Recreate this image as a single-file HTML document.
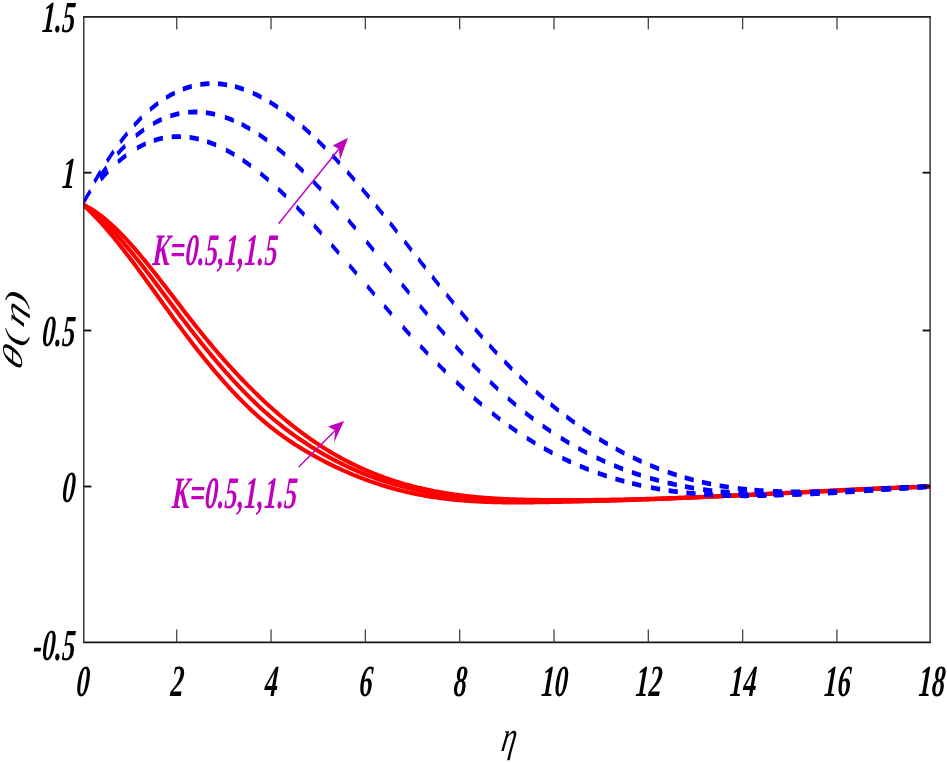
<!DOCTYPE html><html><head><meta charset="utf-8"><style>html,body{margin:0;padding:0;background:#fff;}svg{display:block;will-change:transform}text{font-family:"Liberation Serif",serif;font-weight:bold;font-style:italic;}</style></head><body>
<svg width="947" height="763" viewBox="0 0 947 763">
<rect width="947" height="763" fill="#fff"/>
<defs><clipPath id="cp"><rect x="83.9" y="13.8" width="846.2" height="631.4"/></clipPath></defs>
<g clip-path="url(#cp)"><g transform="translate(84.00,0) scale(0.620,1) translate(-84.00,0)" fill="none" stroke-linejoin="round">
<path d="M81.42,204.20 L83.84,205.54 L86.26,206.91 L88.68,208.31 L91.10,209.74 L93.52,211.19 L95.94,212.68 L98.35,214.19 L100.77,215.72 L103.19,217.28 L105.61,218.87 L108.03,220.48 L110.45,222.11 L112.87,223.77 L115.29,225.45 L117.71,227.15 L120.13,228.87 L122.55,230.61 L124.97,232.38 L127.39,234.16 L129.81,235.96 L132.23,237.78 L134.65,239.62 L137.06,241.47 L139.48,243.34 L141.90,245.23 L144.32,247.13 L146.74,249.05 L149.16,250.98 L151.58,252.92 L154.00,254.88 L156.42,256.85 L158.84,258.83 L161.26,260.82 L163.68,262.82 L166.10,264.84 L168.52,266.86 L170.94,268.89 L173.35,270.93 L175.77,272.97 L178.19,275.03 L180.61,277.08 L183.03,279.15 L185.45,281.22 L187.87,283.29 L190.29,285.37 L192.71,287.45 L195.13,289.54 L197.55,291.62 L199.97,293.71 L202.39,295.80 L204.81,297.89 L207.23,299.98 L209.65,302.07 L212.06,304.15 L214.48,306.24 L216.90,308.32 L219.32,310.40 L221.74,312.47 L224.16,314.54 L226.58,316.61 L229.00,318.67 L231.42,320.72 L233.84,322.77 L236.26,324.81 L238.68,326.84 L241.10,328.86 L243.52,330.87 L245.94,332.88 L248.35,334.87 L250.77,336.85 L253.19,338.83 L255.61,340.79 L258.03,342.74 L260.45,344.69 L262.87,346.62 L265.29,348.54 L267.71,350.45 L270.13,352.35 L272.55,354.24 L274.97,356.11 L277.39,357.98 L279.81,359.83 L282.23,361.67 L284.65,363.50 L287.06,365.32 L289.48,367.12 L291.90,368.92 L294.32,370.70 L296.74,372.46 L299.16,374.22 L301.58,375.96 L304.00,377.69 L306.42,379.40 L308.84,381.10 L311.26,382.79 L313.68,384.46 L316.10,386.12 L318.52,387.77 L320.94,389.40 L323.35,391.02 L325.77,392.62 L328.19,394.21 L330.61,395.78 L333.03,397.34 L335.45,398.88 L337.87,400.41 L340.29,401.92 L342.71,403.42 L345.13,404.90 L347.55,406.36 L349.97,407.81 L352.39,409.24 L354.81,410.66 L357.23,412.06 L359.65,413.44 L362.06,414.81 L364.48,416.16 L366.90,417.49 L369.32,418.81 L371.74,420.10 L374.16,421.38 L376.58,422.65 L379.00,423.89 L381.42,425.12 L383.84,426.33 L386.26,427.53 L388.68,428.71 L391.10,429.88 L393.52,431.03 L395.94,432.16 L398.35,433.28 L400.77,434.38 L403.19,435.47 L405.61,436.55 L408.03,437.61 L410.45,438.66 L412.87,439.69 L415.29,440.71 L417.71,441.72 L420.13,442.71 L422.55,443.69 L424.97,444.66 L427.39,445.62 L429.81,446.57 L432.23,447.50 L434.65,448.43 L437.06,449.34 L439.48,450.24 L441.90,451.13 L444.32,452.01 L446.74,452.88 L449.16,453.74 L451.58,454.59 L454.00,455.43 L456.42,456.26 L458.84,457.08 L461.26,457.90 L463.68,458.70 L466.10,459.50 L468.52,460.29 L470.94,461.07 L473.35,461.85 L475.77,462.61 L478.19,463.37 L480.61,464.12 L483.03,464.86 L485.45,465.59 L487.87,466.32 L490.29,467.04 L492.71,467.75 L495.13,468.45 L497.55,469.14 L499.97,469.83 L502.39,470.50 L504.81,471.17 L507.23,471.84 L509.65,472.49 L512.06,473.14 L514.48,473.77 L516.90,474.41 L519.32,475.03 L521.74,475.64 L524.16,476.25 L526.58,476.85 L529.00,477.44 L531.42,478.02 L533.84,478.60 L536.26,479.17 L538.68,479.73 L541.10,480.28 L543.52,480.82 L545.94,481.36 L548.35,481.89 L550.77,482.41 L553.19,482.92 L555.61,483.43 L558.03,483.92 L560.45,484.42 L562.87,484.90 L565.29,485.37 L567.71,485.84 L570.13,486.30 L572.55,486.75 L574.97,487.19 L577.39,487.63 L579.81,488.06 L582.23,488.48 L584.65,488.89 L587.06,489.30 L589.48,489.70 L591.90,490.09 L594.32,490.47 L596.74,490.85 L599.16,491.22 L601.58,491.58 L604.00,491.93 L606.42,492.28 L608.84,492.62 L611.26,492.95 L613.68,493.27 L616.10,493.59 L618.52,493.90 L620.94,494.20 L623.35,494.50 L625.77,494.79 L628.19,495.07 L630.61,495.35 L633.03,495.62 L635.45,495.89 L637.87,496.14 L640.29,496.39 L642.71,496.64 L645.13,496.88 L647.55,497.11 L649.97,497.34 L652.39,497.56 L654.81,497.77 L657.23,497.98 L659.65,498.18 L662.06,498.38 L664.48,498.57 L666.90,498.76 L669.32,498.94 L671.74,499.11 L674.16,499.28 L676.58,499.44 L679.00,499.60 L681.42,499.75 L683.84,499.90 L686.26,500.05 L688.68,500.18 L691.10,500.32 L693.52,500.45 L695.94,500.57 L698.35,500.69 L700.77,500.80 L703.19,500.91 L705.61,501.02 L708.03,501.12 L710.45,501.22 L712.87,501.31 L715.29,501.40 L717.71,501.48 L720.13,501.56 L722.55,501.64 L724.97,501.71 L727.39,501.78 L729.81,501.84 L732.23,501.90 L734.65,501.96 L737.06,502.01 L739.48,502.06 L741.90,502.11 L744.32,502.15 L746.74,502.19 L749.16,502.23 L751.58,502.26 L754.00,502.30 L756.42,502.32 L758.84,502.35 L761.26,502.37 L763.68,502.39 L766.10,502.41 L768.52,502.42 L770.94,502.43 L773.35,502.44 L775.77,502.45 L778.19,502.45 L780.61,502.46 L783.03,502.46 L785.45,502.45 L787.87,502.45 L790.29,502.44 L792.71,502.44 L795.13,502.43 L797.55,502.42 L799.97,502.40 L802.39,502.39 L804.81,502.37 L807.23,502.35 L809.65,502.34 L812.06,502.31 L814.48,502.29 L816.90,502.27 L819.32,502.25 L821.74,502.22 L824.16,502.20 L826.58,502.17 L829.00,502.14 L831.42,502.11 L833.84,502.09 L836.26,502.06 L838.68,502.03 L841.10,502.00 L843.52,501.97 L845.94,501.93 L848.35,501.90 L850.77,501.87 L853.19,501.84 L855.61,501.80 L858.03,501.77 L860.45,501.73 L862.87,501.70 L865.29,501.66 L867.71,501.63 L870.13,501.59 L872.55,501.56 L874.97,501.52 L877.39,501.48 L879.81,501.44 L882.23,501.40 L884.65,501.36 L887.06,501.32 L889.48,501.28 L891.90,501.24 L894.32,501.20 L896.74,501.16 L899.16,501.12 L901.58,501.08 L904.00,501.03 L906.42,500.99 L908.84,500.95 L911.26,500.90 L913.68,500.86 L916.10,500.81 L918.52,500.77 L920.94,500.72 L923.35,500.68 L925.77,500.63 L928.19,500.58 L930.61,500.53 L933.03,500.49 L935.45,500.44 L937.87,500.39 L940.29,500.34 L942.71,500.29 L945.13,500.24 L947.55,500.19 L949.97,500.14 L952.39,500.09 L954.81,500.04 L957.23,499.99 L959.65,499.94 L962.06,499.88 L964.48,499.83 L966.90,499.78 L969.32,499.72 L971.74,499.67 L974.16,499.62 L976.58,499.56 L979.00,499.51 L981.42,499.45 L983.84,499.40 L986.26,499.34 L988.68,499.28 L991.10,499.23 L993.52,499.17 L995.94,499.11 L998.35,499.06 L1000.77,499.00 L1003.19,498.94 L1005.61,498.88 L1008.03,498.82 L1010.45,498.77 L1012.87,498.71 L1015.29,498.65 L1017.71,498.59 L1020.13,498.53 L1022.55,498.47 L1024.97,498.41 L1027.39,498.35 L1029.81,498.28 L1032.23,498.22 L1034.65,498.16 L1037.06,498.10 L1039.48,498.04 L1041.90,497.97 L1044.32,497.91 L1046.74,497.85 L1049.16,497.79 L1051.58,497.72 L1054.00,497.66 L1056.42,497.60 L1058.84,497.53 L1061.26,497.47 L1063.68,497.40 L1066.10,497.34 L1068.52,497.27 L1070.94,497.21 L1073.35,497.14 L1075.77,497.08 L1078.19,497.01 L1080.61,496.94 L1083.03,496.88 L1085.45,496.81 L1087.87,496.75 L1090.29,496.68 L1092.71,496.61 L1095.13,496.54 L1097.55,496.48 L1099.97,496.41 L1102.39,496.34 L1104.81,496.27 L1107.23,496.21 L1109.65,496.14 L1112.06,496.07 L1114.48,496.00 L1116.90,495.93 L1119.32,495.86 L1121.74,495.80 L1124.16,495.73 L1126.58,495.66 L1129.00,495.59 L1131.42,495.52 L1133.84,495.45 L1136.26,495.38 L1138.68,495.31 L1141.10,495.24 L1143.52,495.17 L1145.94,495.10 L1148.35,495.03 L1150.77,494.96 L1153.19,494.89 L1155.61,494.82 L1158.03,494.75 L1160.45,494.68 L1162.87,494.61 L1165.29,494.54 L1167.71,494.46 L1170.13,494.39 L1172.55,494.32 L1174.97,494.25 L1177.39,494.18 L1179.81,494.11 L1182.23,494.04 L1184.65,493.97 L1187.06,493.89 L1189.48,493.82 L1191.90,493.75 L1194.32,493.68 L1196.74,493.61 L1199.16,493.54 L1201.58,493.46 L1204.00,493.39 L1206.42,493.32 L1208.84,493.25 L1211.26,493.18 L1213.68,493.10 L1216.10,493.03 L1218.52,492.96 L1220.94,492.89 L1223.35,492.82 L1225.77,492.75 L1228.19,492.67 L1230.61,492.60 L1233.03,492.53 L1235.45,492.46 L1237.87,492.39 L1240.29,492.31 L1242.71,492.24 L1245.13,492.17 L1247.55,492.10 L1249.97,492.03 L1252.39,491.95 L1254.81,491.88 L1257.23,491.81 L1259.65,491.74 L1262.06,491.67 L1264.48,491.60 L1266.90,491.53 L1269.32,491.45 L1271.74,491.38 L1274.16,491.31 L1276.58,491.24 L1279.00,491.17 L1281.42,491.10 L1283.84,491.03 L1286.26,490.96 L1288.68,490.88 L1291.10,490.81 L1293.52,490.74 L1295.94,490.67 L1298.35,490.60 L1300.77,490.53 L1303.19,490.46 L1305.61,490.39 L1308.03,490.32 L1310.45,490.25 L1312.87,490.18 L1315.29,490.11 L1317.71,490.04 L1320.13,489.97 L1322.55,489.90 L1324.97,489.83 L1327.39,489.76 L1329.81,489.70 L1332.23,489.63 L1334.65,489.56 L1337.06,489.49 L1339.48,489.42 L1341.90,489.35 L1344.32,489.29 L1346.74,489.22 L1349.16,489.15 L1351.58,489.08 L1354.00,489.01 L1356.42,488.95 L1358.84,488.88 L1361.26,488.81 L1363.68,488.75 L1366.10,488.68 L1368.52,488.61 L1370.94,488.55 L1373.35,488.48 L1375.77,488.42 L1378.19,488.35 L1380.61,488.29 L1383.03,488.22 L1385.45,488.16 L1387.87,488.09 L1390.29,488.03 L1392.71,487.96 L1395.13,487.90 L1397.55,487.83 L1399.97,487.77 L1402.39,487.71 L1404.81,487.64 L1407.23,487.58 L1409.65,487.52 L1412.06,487.46 L1414.48,487.39 L1416.90,487.33 L1419.32,487.27 L1421.74,487.21 L1424.16,487.15 L1426.58,487.09 L1429.00,487.03 L1431.42,486.97 L1433.84,486.91 L1436.26,486.85 L1438.68,486.79 L1441.10,486.73 L1443.52,486.67 L1445.94,486.61 L1448.35,486.55 L1450.61,486.50" stroke="#ff0000" stroke-width="4.10" vector-effect="non-scaling-stroke"/>
<path d="M81.42,204.20 L83.84,205.22 L86.26,206.28 L88.68,207.37 L91.10,208.50 L93.52,209.66 L95.94,210.85 L98.35,212.07 L100.77,213.32 L103.19,214.60 L105.61,215.91 L108.03,217.25 L110.45,218.61 L112.87,220.01 L115.29,221.43 L117.71,222.88 L120.13,224.35 L122.55,225.85 L124.97,227.38 L127.39,228.92 L129.81,230.50 L132.23,232.09 L134.65,233.70 L137.06,235.34 L139.48,237.00 L141.90,238.68 L144.32,240.38 L146.74,242.09 L149.16,243.83 L151.58,245.58 L154.00,247.35 L156.42,249.14 L158.84,250.94 L161.26,252.76 L163.68,254.59 L166.10,256.44 L168.52,258.30 L170.94,260.17 L173.35,262.06 L175.77,263.96 L178.19,265.87 L180.61,267.79 L183.03,269.72 L185.45,271.65 L187.87,273.60 L190.29,275.56 L192.71,277.52 L195.13,279.49 L197.55,281.46 L199.97,283.45 L202.39,285.43 L204.81,287.42 L207.23,289.42 L209.65,291.42 L212.06,293.42 L214.48,295.42 L216.90,297.42 L219.32,299.43 L221.74,301.43 L224.16,303.44 L226.58,305.44 L229.00,307.44 L231.42,309.44 L233.84,311.44 L236.26,313.43 L238.68,315.42 L241.10,317.40 L243.52,319.38 L245.94,321.35 L248.35,323.32 L250.77,325.28 L253.19,327.23 L255.61,329.17 L258.03,331.11 L260.45,333.03 L262.87,334.95 L265.29,336.85 L267.71,338.75 L270.13,340.63 L272.55,342.51 L274.97,344.37 L277.39,346.23 L279.81,348.08 L282.23,349.91 L284.65,351.74 L287.06,353.55 L289.48,355.35 L291.90,357.14 L294.32,358.93 L296.74,360.70 L299.16,362.46 L301.58,364.20 L304.00,365.94 L306.42,367.67 L308.84,369.38 L311.26,371.08 L313.68,372.77 L316.10,374.45 L318.52,376.12 L320.94,377.77 L323.35,379.42 L325.77,381.05 L328.19,382.66 L330.61,384.27 L333.03,385.86 L335.45,387.44 L337.87,389.01 L340.29,390.56 L342.71,392.10 L345.13,393.63 L347.55,395.15 L349.97,396.65 L352.39,398.14 L354.81,399.61 L357.23,401.07 L359.65,402.52 L362.06,403.95 L364.48,405.37 L366.90,406.78 L369.32,408.17 L371.74,409.54 L374.16,410.90 L376.58,412.25 L379.00,413.59 L381.42,414.90 L383.84,416.21 L386.26,417.49 L388.68,418.77 L391.10,420.03 L393.52,421.27 L395.94,422.50 L398.35,423.71 L400.77,424.91 L403.19,426.09 L405.61,427.26 L408.03,428.42 L410.45,429.56 L412.87,430.69 L415.29,431.81 L417.71,432.92 L420.13,434.01 L422.55,435.09 L424.97,436.15 L427.39,437.21 L429.81,438.25 L432.23,439.28 L434.65,440.31 L437.06,441.32 L439.48,442.32 L441.90,443.30 L444.32,444.28 L446.74,445.25 L449.16,446.21 L451.58,447.16 L454.00,448.09 L456.42,449.02 L458.84,449.94 L461.26,450.84 L463.68,451.74 L466.10,452.62 L468.52,453.50 L470.94,454.36 L473.35,455.22 L475.77,456.06 L478.19,456.90 L480.61,457.72 L483.03,458.53 L485.45,459.33 L487.87,460.13 L490.29,460.91 L492.71,461.68 L495.13,462.45 L497.55,463.20 L499.97,463.94 L502.39,464.68 L504.81,465.40 L507.23,466.12 L509.65,466.82 L512.06,467.52 L514.48,468.21 L516.90,468.88 L519.32,469.55 L521.74,470.21 L524.16,470.86 L526.58,471.50 L529.00,472.14 L531.42,472.76 L533.84,473.37 L536.26,473.98 L538.68,474.58 L541.10,475.17 L543.52,475.75 L545.94,476.32 L548.35,476.88 L550.77,477.43 L553.19,477.98 L555.61,478.52 L558.03,479.05 L560.45,479.57 L562.87,480.08 L565.29,480.59 L567.71,481.09 L570.13,481.58 L572.55,482.06 L574.97,482.53 L577.39,483.00 L579.81,483.46 L582.23,483.91 L584.65,484.35 L587.06,484.79 L589.48,485.22 L591.90,485.64 L594.32,486.05 L596.74,486.46 L599.16,486.86 L601.58,487.25 L604.00,487.63 L606.42,488.01 L608.84,488.38 L611.26,488.75 L613.68,489.11 L616.10,489.46 L618.52,489.80 L620.94,490.14 L623.35,490.47 L625.77,490.80 L628.19,491.12 L630.61,491.43 L633.03,491.73 L635.45,492.03 L637.87,492.33 L640.29,492.61 L642.71,492.90 L645.13,493.17 L647.55,493.44 L649.97,493.70 L652.39,493.96 L654.81,494.21 L657.23,494.46 L659.65,494.70 L662.06,494.94 L664.48,495.17 L666.90,495.39 L669.32,495.61 L671.74,495.82 L674.16,496.03 L676.58,496.24 L679.00,496.43 L681.42,496.63 L683.84,496.82 L686.26,497.00 L688.68,497.18 L691.10,497.35 L693.52,497.52 L695.94,497.68 L698.35,497.84 L700.77,498.00 L703.19,498.15 L705.61,498.30 L708.03,498.44 L710.45,498.58 L712.87,498.71 L715.29,498.84 L717.71,498.96 L720.13,499.08 L722.55,499.20 L724.97,499.31 L727.39,499.42 L729.81,499.53 L732.23,499.63 L734.65,499.73 L737.06,499.82 L739.48,499.91 L741.90,500.00 L744.32,500.08 L746.74,500.16 L749.16,500.24 L751.58,500.31 L754.00,500.39 L756.42,500.45 L758.84,500.52 L761.26,500.58 L763.68,500.64 L766.10,500.69 L768.52,500.75 L770.94,500.80 L773.35,500.84 L775.77,500.89 L778.19,500.93 L780.61,500.97 L783.03,501.01 L785.45,501.04 L787.87,501.08 L790.29,501.11 L792.71,501.13 L795.13,501.16 L797.55,501.18 L799.97,501.21 L802.39,501.23 L804.81,501.24 L807.23,501.26 L809.65,501.28 L812.06,501.29 L814.48,501.30 L816.90,501.31 L819.32,501.32 L821.74,501.32 L824.16,501.33 L826.58,501.33 L829.00,501.34 L831.42,501.34 L833.84,501.34 L836.26,501.34 L838.68,501.34 L841.10,501.33 L843.52,501.33 L845.94,501.32 L848.35,501.32 L850.77,501.31 L853.19,501.30 L855.61,501.30 L858.03,501.29 L860.45,501.28 L862.87,501.26 L865.29,501.25 L867.71,501.24 L870.13,501.22 L872.55,501.21 L874.97,501.19 L877.39,501.17 L879.81,501.16 L882.23,501.14 L884.65,501.12 L887.06,501.10 L889.48,501.08 L891.90,501.05 L894.32,501.03 L896.74,501.00 L899.16,500.98 L901.58,500.95 L904.00,500.93 L906.42,500.90 L908.84,500.87 L911.26,500.84 L913.68,500.81 L916.10,500.78 L918.52,500.75 L920.94,500.72 L923.35,500.68 L925.77,500.65 L928.19,500.61 L930.61,500.58 L933.03,500.54 L935.45,500.50 L937.87,500.47 L940.29,500.43 L942.71,500.39 L945.13,500.35 L947.55,500.31 L949.97,500.27 L952.39,500.22 L954.81,500.18 L957.23,500.14 L959.65,500.09 L962.06,500.05 L964.48,500.00 L966.90,499.96 L969.32,499.91 L971.74,499.86 L974.16,499.81 L976.58,499.76 L979.00,499.71 L981.42,499.66 L983.84,499.61 L986.26,499.56 L988.68,499.51 L991.10,499.46 L993.52,499.40 L995.94,499.35 L998.35,499.30 L1000.77,499.24 L1003.19,499.18 L1005.61,499.13 L1008.03,499.07 L1010.45,499.01 L1012.87,498.96 L1015.29,498.90 L1017.71,498.84 L1020.13,498.78 L1022.55,498.72 L1024.97,498.66 L1027.39,498.60 L1029.81,498.54 L1032.23,498.48 L1034.65,498.41 L1037.06,498.35 L1039.48,498.29 L1041.90,498.22 L1044.32,498.16 L1046.74,498.10 L1049.16,498.03 L1051.58,497.97 L1054.00,497.90 L1056.42,497.83 L1058.84,497.77 L1061.26,497.70 L1063.68,497.63 L1066.10,497.56 L1068.52,497.50 L1070.94,497.43 L1073.35,497.36 L1075.77,497.29 L1078.19,497.22 L1080.61,497.15 L1083.03,497.08 L1085.45,497.01 L1087.87,496.94 L1090.29,496.87 L1092.71,496.80 L1095.13,496.72 L1097.55,496.65 L1099.97,496.58 L1102.39,496.51 L1104.81,496.43 L1107.23,496.36 L1109.65,496.29 L1112.06,496.21 L1114.48,496.14 L1116.90,496.06 L1119.32,495.99 L1121.74,495.91 L1124.16,495.84 L1126.58,495.76 L1129.00,495.69 L1131.42,495.61 L1133.84,495.54 L1136.26,495.46 L1138.68,495.38 L1141.10,495.31 L1143.52,495.23 L1145.94,495.15 L1148.35,495.08 L1150.77,495.00 L1153.19,494.92 L1155.61,494.85 L1158.03,494.77 L1160.45,494.69 L1162.87,494.61 L1165.29,494.53 L1167.71,494.46 L1170.13,494.38 L1172.55,494.30 L1174.97,494.22 L1177.39,494.14 L1179.81,494.07 L1182.23,493.99 L1184.65,493.91 L1187.06,493.83 L1189.48,493.75 L1191.90,493.67 L1194.32,493.59 L1196.74,493.52 L1199.16,493.44 L1201.58,493.36 L1204.00,493.28 L1206.42,493.20 L1208.84,493.12 L1211.26,493.04 L1213.68,492.97 L1216.10,492.89 L1218.52,492.81 L1220.94,492.73 L1223.35,492.65 L1225.77,492.57 L1228.19,492.49 L1230.61,492.42 L1233.03,492.34 L1235.45,492.26 L1237.87,492.18 L1240.29,492.10 L1242.71,492.03 L1245.13,491.95 L1247.55,491.87 L1249.97,491.79 L1252.39,491.72 L1254.81,491.64 L1257.23,491.56 L1259.65,491.49 L1262.06,491.41 L1264.48,491.33 L1266.90,491.26 L1269.32,491.18 L1271.74,491.11 L1274.16,491.03 L1276.58,490.95 L1279.00,490.88 L1281.42,490.80 L1283.84,490.73 L1286.26,490.65 L1288.68,490.58 L1291.10,490.51 L1293.52,490.43 L1295.94,490.36 L1298.35,490.28 L1300.77,490.21 L1303.19,490.14 L1305.61,490.07 L1308.03,489.99 L1310.45,489.92 L1312.87,489.85 L1315.29,489.78 L1317.71,489.71 L1320.13,489.64 L1322.55,489.57 L1324.97,489.50 L1327.39,489.43 L1329.81,489.36 L1332.23,489.29 L1334.65,489.22 L1337.06,489.15 L1339.48,489.09 L1341.90,489.02 L1344.32,488.95 L1346.74,488.88 L1349.16,488.82 L1351.58,488.75 L1354.00,488.69 L1356.42,488.62 L1358.84,488.56 L1361.26,488.49 L1363.68,488.43 L1366.10,488.37 L1368.52,488.30 L1370.94,488.24 L1373.35,488.18 L1375.77,488.12 L1378.19,488.06 L1380.61,488.00 L1383.03,487.94 L1385.45,487.88 L1387.87,487.82 L1390.29,487.76 L1392.71,487.70 L1395.13,487.65 L1397.55,487.59 L1399.97,487.53 L1402.39,487.48 L1404.81,487.42 L1407.23,487.37 L1409.65,487.32 L1412.06,487.26 L1414.48,487.21 L1416.90,487.16 L1419.32,487.11 L1421.74,487.06 L1424.16,487.01 L1426.58,486.96 L1429.00,486.91 L1431.42,486.86 L1433.84,486.81 L1436.26,486.77 L1438.68,486.72 L1441.10,486.67 L1443.52,486.63 L1445.94,486.58 L1448.35,486.54 L1450.61,486.50" stroke="#ff0000" stroke-width="4.10" vector-effect="non-scaling-stroke"/>
<path d="M81.42,204.20 L83.84,204.92 L86.26,205.68 L88.68,206.48 L91.10,207.31 L93.52,208.19 L95.94,209.10 L98.35,210.05 L100.77,211.04 L103.19,212.06 L105.61,213.12 L108.03,214.21 L110.45,215.33 L112.87,216.49 L115.29,217.68 L117.71,218.90 L120.13,220.15 L122.55,221.44 L124.97,222.75 L127.39,224.09 L129.81,225.46 L132.23,226.86 L134.65,228.28 L137.06,229.73 L139.48,231.20 L141.90,232.70 L144.32,234.23 L146.74,235.78 L149.16,237.35 L151.58,238.94 L154.00,240.56 L156.42,242.19 L158.84,243.85 L161.26,245.53 L163.68,247.22 L166.10,248.93 L168.52,250.67 L170.94,252.41 L173.35,254.18 L175.77,255.96 L178.19,257.75 L180.61,259.56 L183.03,261.39 L185.45,263.22 L187.87,265.07 L190.29,266.93 L192.71,268.80 L195.13,270.68 L197.55,272.58 L199.97,274.48 L202.39,276.39 L204.81,278.30 L207.23,280.23 L209.65,282.16 L212.06,284.09 L214.48,286.03 L216.90,287.98 L219.32,289.93 L221.74,291.88 L224.16,293.84 L226.58,295.79 L229.00,297.75 L231.42,299.71 L233.84,301.67 L236.26,303.62 L238.68,305.58 L241.10,307.53 L243.52,309.49 L245.94,311.43 L248.35,313.38 L250.77,315.31 L253.19,317.25 L255.61,319.17 L258.03,321.09 L260.45,323.01 L262.87,324.91 L265.29,326.81 L267.71,328.69 L270.13,330.57 L272.55,332.43 L274.97,334.29 L277.39,336.13 L279.81,337.97 L282.23,339.79 L284.65,341.60 L287.06,343.40 L289.48,345.19 L291.90,346.97 L294.32,348.74 L296.74,350.50 L299.16,352.25 L301.58,353.98 L304.00,355.71 L306.42,357.42 L308.84,359.13 L311.26,360.82 L313.68,362.50 L316.10,364.17 L318.52,365.83 L320.94,367.48 L323.35,369.12 L325.77,370.75 L328.19,372.36 L330.61,373.97 L333.03,375.56 L335.45,377.15 L337.87,378.72 L340.29,380.28 L342.71,381.83 L345.13,383.37 L347.55,384.90 L349.97,386.42 L352.39,387.93 L354.81,389.42 L357.23,390.91 L359.65,392.38 L362.06,393.84 L364.48,395.29 L366.90,396.73 L369.32,398.16 L371.74,399.58 L374.16,400.98 L376.58,402.38 L379.00,403.76 L381.42,405.14 L383.84,406.50 L386.26,407.85 L388.68,409.19 L391.10,410.51 L393.52,411.83 L395.94,413.14 L398.35,414.43 L400.77,415.71 L403.19,416.98 L405.61,418.24 L408.03,419.49 L410.45,420.73 L412.87,421.96 L415.29,423.17 L417.71,424.37 L420.13,425.57 L422.55,426.75 L424.97,427.92 L427.39,429.07 L429.81,430.22 L432.23,431.36 L434.65,432.48 L437.06,433.59 L439.48,434.69 L441.90,435.78 L444.32,436.86 L446.74,437.92 L449.16,438.98 L451.58,440.02 L454.00,441.05 L456.42,442.07 L458.84,443.08 L461.26,444.08 L463.68,445.06 L466.10,446.03 L468.52,447.00 L470.94,447.95 L473.35,448.88 L475.77,449.81 L478.19,450.73 L480.61,451.63 L483.03,452.53 L485.45,453.41 L487.87,454.28 L490.29,455.14 L492.71,455.99 L495.13,456.83 L497.55,457.66 L499.97,458.48 L502.39,459.28 L504.81,460.08 L507.23,460.86 L509.65,461.64 L512.06,462.41 L514.48,463.16 L516.90,463.91 L519.32,464.64 L521.74,465.36 L524.16,466.08 L526.58,466.78 L529.00,467.48 L531.42,468.16 L533.84,468.84 L536.26,469.51 L538.68,470.16 L541.10,470.81 L543.52,471.45 L545.94,472.07 L548.35,472.69 L550.77,473.30 L553.19,473.90 L555.61,474.49 L558.03,475.08 L560.45,475.65 L562.87,476.21 L565.29,476.77 L567.71,477.32 L570.13,477.85 L572.55,478.38 L574.97,478.90 L577.39,479.42 L579.81,479.92 L582.23,480.42 L584.65,480.91 L587.06,481.39 L589.48,481.86 L591.90,482.32 L594.32,482.78 L596.74,483.22 L599.16,483.66 L601.58,484.10 L604.00,484.52 L606.42,484.94 L608.84,485.35 L611.26,485.75 L613.68,486.14 L616.10,486.53 L618.52,486.91 L620.94,487.28 L623.35,487.65 L625.77,488.00 L628.19,488.36 L630.61,488.70 L633.03,489.04 L635.45,489.37 L637.87,489.69 L640.29,490.01 L642.71,490.32 L645.13,490.62 L647.55,490.92 L649.97,491.21 L652.39,491.50 L654.81,491.78 L657.23,492.05 L659.65,492.32 L662.06,492.58 L664.48,492.83 L666.90,493.08 L669.32,493.32 L671.74,493.56 L674.16,493.79 L676.58,494.02 L679.00,494.24 L681.42,494.46 L683.84,494.66 L686.26,494.87 L688.68,495.07 L691.10,495.26 L693.52,495.45 L695.94,495.63 L698.35,495.81 L700.77,495.99 L703.19,496.16 L705.61,496.32 L708.03,496.48 L710.45,496.63 L712.87,496.79 L715.29,496.93 L717.71,497.07 L720.13,497.21 L722.55,497.34 L724.97,497.47 L727.39,497.60 L729.81,497.72 L732.23,497.83 L734.65,497.94 L737.06,498.05 L739.48,498.16 L741.90,498.26 L744.32,498.36 L746.74,498.45 L749.16,498.54 L751.58,498.63 L754.00,498.71 L756.42,498.79 L758.84,498.87 L761.26,498.94 L763.68,499.01 L766.10,499.08 L768.52,499.14 L770.94,499.21 L773.35,499.26 L775.77,499.32 L778.19,499.37 L780.61,499.42 L783.03,499.47 L785.45,499.52 L787.87,499.56 L790.29,499.60 L792.71,499.64 L795.13,499.68 L797.55,499.71 L799.97,499.75 L802.39,499.78 L804.81,499.80 L807.23,499.83 L809.65,499.86 L812.06,499.88 L814.48,499.90 L816.90,499.92 L819.32,499.94 L821.74,499.96 L824.16,499.97 L826.58,499.99 L829.00,500.00 L831.42,500.01 L833.84,500.02 L836.26,500.03 L838.68,500.04 L841.10,500.05 L843.52,500.05 L845.94,500.06 L848.35,500.07 L850.77,500.07 L853.19,500.07 L855.61,500.08 L858.03,500.08 L860.45,500.08 L862.87,500.08 L865.29,500.08 L867.71,500.07 L870.13,500.07 L872.55,500.07 L874.97,500.06 L877.39,500.05 L879.81,500.05 L882.23,500.04 L884.65,500.03 L887.06,500.02 L889.48,500.01 L891.90,500.00 L894.32,499.99 L896.74,499.98 L899.16,499.96 L901.58,499.95 L904.00,499.93 L906.42,499.92 L908.84,499.90 L911.26,499.88 L913.68,499.87 L916.10,499.85 L918.52,499.83 L920.94,499.81 L923.35,499.78 L925.77,499.76 L928.19,499.74 L930.61,499.72 L933.03,499.69 L935.45,499.67 L937.87,499.64 L940.29,499.61 L942.71,499.59 L945.13,499.56 L947.55,499.53 L949.97,499.50 L952.39,499.47 L954.81,499.44 L957.23,499.41 L959.65,499.37 L962.06,499.34 L964.48,499.31 L966.90,499.27 L969.32,499.24 L971.74,499.20 L974.16,499.17 L976.58,499.13 L979.00,499.09 L981.42,499.05 L983.84,499.01 L986.26,498.97 L988.68,498.93 L991.10,498.89 L993.52,498.85 L995.94,498.81 L998.35,498.77 L1000.77,498.72 L1003.19,498.68 L1005.61,498.64 L1008.03,498.59 L1010.45,498.55 L1012.87,498.50 L1015.29,498.45 L1017.71,498.41 L1020.13,498.36 L1022.55,498.31 L1024.97,498.26 L1027.39,498.21 L1029.81,498.16 L1032.23,498.11 L1034.65,498.06 L1037.06,498.01 L1039.48,497.96 L1041.90,497.90 L1044.32,497.85 L1046.74,497.80 L1049.16,497.74 L1051.58,497.69 L1054.00,497.64 L1056.42,497.58 L1058.84,497.52 L1061.26,497.47 L1063.68,497.41 L1066.10,497.35 L1068.52,497.30 L1070.94,497.24 L1073.35,497.18 L1075.77,497.12 L1078.19,497.06 L1080.61,497.00 L1083.03,496.94 L1085.45,496.88 L1087.87,496.82 L1090.29,496.76 L1092.71,496.70 L1095.13,496.64 L1097.55,496.58 L1099.97,496.51 L1102.39,496.45 L1104.81,496.39 L1107.23,496.32 L1109.65,496.26 L1112.06,496.19 L1114.48,496.13 L1116.90,496.06 L1119.32,496.00 L1121.74,495.93 L1124.16,495.87 L1126.58,495.80 L1129.00,495.74 L1131.42,495.67 L1133.84,495.60 L1136.26,495.53 L1138.68,495.47 L1141.10,495.40 L1143.52,495.33 L1145.94,495.26 L1148.35,495.19 L1150.77,495.12 L1153.19,495.05 L1155.61,494.99 L1158.03,494.92 L1160.45,494.85 L1162.87,494.78 L1165.29,494.71 L1167.71,494.63 L1170.13,494.56 L1172.55,494.49 L1174.97,494.42 L1177.39,494.35 L1179.81,494.28 L1182.23,494.21 L1184.65,494.14 L1187.06,494.06 L1189.48,493.99 L1191.90,493.92 L1194.32,493.85 L1196.74,493.77 L1199.16,493.70 L1201.58,493.63 L1204.00,493.56 L1206.42,493.48 L1208.84,493.41 L1211.26,493.34 L1213.68,493.26 L1216.10,493.19 L1218.52,493.12 L1220.94,493.04 L1223.35,492.97 L1225.77,492.90 L1228.19,492.82 L1230.61,492.75 L1233.03,492.67 L1235.45,492.60 L1237.87,492.53 L1240.29,492.45 L1242.71,492.38 L1245.13,492.30 L1247.55,492.23 L1249.97,492.16 L1252.39,492.08 L1254.81,492.01 L1257.23,491.93 L1259.65,491.86 L1262.06,491.78 L1264.48,491.71 L1266.90,491.64 L1269.32,491.56 L1271.74,491.49 L1274.16,491.41 L1276.58,491.34 L1279.00,491.27 L1281.42,491.19 L1283.84,491.12 L1286.26,491.04 L1288.68,490.97 L1291.10,490.90 L1293.52,490.82 L1295.94,490.75 L1298.35,490.68 L1300.77,490.60 L1303.19,490.53 L1305.61,490.46 L1308.03,490.38 L1310.45,490.31 L1312.87,490.24 L1315.29,490.17 L1317.71,490.09 L1320.13,490.02 L1322.55,489.95 L1324.97,489.88 L1327.39,489.81 L1329.81,489.73 L1332.23,489.66 L1334.65,489.59 L1337.06,489.52 L1339.48,489.45 L1341.90,489.38 L1344.32,489.31 L1346.74,489.24 L1349.16,489.17 L1351.58,489.10 L1354.00,489.03 L1356.42,488.96 L1358.84,488.89 L1361.26,488.82 L1363.68,488.75 L1366.10,488.69 L1368.52,488.62 L1370.94,488.55 L1373.35,488.48 L1375.77,488.41 L1378.19,488.35 L1380.61,488.28 L1383.03,488.21 L1385.45,488.15 L1387.87,488.08 L1390.29,488.02 L1392.71,487.95 L1395.13,487.89 L1397.55,487.82 L1399.97,487.76 L1402.39,487.69 L1404.81,487.63 L1407.23,487.57 L1409.65,487.51 L1412.06,487.44 L1414.48,487.38 L1416.90,487.32 L1419.32,487.26 L1421.74,487.20 L1424.16,487.14 L1426.58,487.08 L1429.00,487.02 L1431.42,486.96 L1433.84,486.90 L1436.26,486.84 L1438.68,486.78 L1441.10,486.72 L1443.52,486.67 L1445.94,486.61 L1448.35,486.55 L1450.61,486.50" stroke="#ff0000" stroke-width="4.10" vector-effect="non-scaling-stroke"/>
<path d="M110.94,179.74 L111.74,179.16 L112.55,178.58 L113.35,178.00 L114.16,177.43 L114.97,176.86 L115.77,176.30 L116.58,175.74 L117.39,175.19 L118.19,174.64 L119.00,174.09 L119.81,173.55 L120.61,173.01 L121.42,172.48 L122.23,171.95 L123.03,171.43 M138.84,162.01 L139.65,161.57 L140.45,161.13 L141.26,160.70 L142.06,160.28 L142.87,159.86 L143.68,159.44 L144.48,159.02 L145.29,158.62 L146.10,158.21 L146.90,157.81 L147.71,157.41 L148.52,157.02 L149.32,156.63 L150.13,156.24 L150.94,155.86 L151.74,155.48 L152.06,155.33 M169.48,148.18 L170.29,147.89 L171.10,147.61 L171.90,147.33 L172.71,147.05 L173.52,146.78 L174.32,146.51 L175.13,146.24 L175.94,145.98 L176.74,145.73 L177.55,145.47 L178.35,145.22 L179.16,144.98 L179.97,144.73 L180.77,144.50 L181.58,144.26 L182.39,144.03 L183.19,143.80 L183.68,143.67 M196.58,140.56 L197.39,140.39 L198.19,140.23 L199.00,140.08 L199.81,139.92 L200.61,139.77 L201.42,139.63 L202.23,139.48 L203.03,139.35 L203.84,139.21 L204.65,139.08 L205.45,138.95 L206.26,138.82 L207.06,138.70 L207.87,138.58 L208.68,138.47 L209.48,138.36 L210.29,138.25 L211.10,138.15 L211.26,138.13 M225.45,136.85 L226.26,136.81 L227.06,136.78 L227.87,136.74 L228.68,136.71 L229.48,136.68 L230.29,136.66 L231.10,136.63 L231.90,136.62 L232.71,136.60 L233.52,136.59 L234.32,136.58 L235.13,136.57 L235.94,136.57 L236.74,136.57 L237.55,136.58 L238.35,136.58 L239.16,136.59 L239.97,136.61 L240.29,136.61 M254.32,137.37 L255.13,137.44 L255.94,137.51 L256.74,137.59 L257.55,137.67 L258.35,137.76 L259.16,137.84 L259.97,137.93 L260.77,138.02 L261.58,138.12 L262.39,138.22 L263.19,138.32 L264.00,138.42 L264.81,138.53 L265.61,138.64 L266.42,138.75 L267.23,138.87 L268.03,138.99 L268.84,139.11 L269.16,139.16 M282.55,141.61 L283.35,141.78 L284.16,141.95 L284.97,142.13 L285.77,142.31 L286.58,142.49 L287.39,142.68 L288.19,142.87 L289.00,143.06 L289.81,143.25 L290.61,143.45 L291.42,143.64 L292.23,143.84 L293.03,144.05 L293.84,144.25 L294.65,144.46 L295.45,144.67 L296.26,144.89 L297.06,145.11 M312.87,149.85 L313.68,150.12 L314.48,150.39 L315.29,150.66 L316.10,150.94 L316.90,151.21 L317.71,151.49 L318.52,151.77 L319.32,152.06 L320.13,152.34 L320.94,152.63 L321.74,152.92 L322.55,153.21 L323.35,153.51 L324.16,153.81 L324.97,154.10 L325.77,154.41 L326.58,154.71 L326.74,154.77 M339.81,160.01 L340.61,160.35 L341.42,160.69 L342.23,161.04 L343.03,161.38 L343.84,161.73 L344.65,162.08 L345.45,162.44 L346.26,162.79 L347.06,163.15 L347.87,163.51 L348.68,163.87 L349.48,164.23 L350.29,164.60 L351.10,164.97 L351.90,165.34 L352.71,165.71 L353.35,166.01 M368.52,173.36 L369.32,173.77 L370.13,174.18 L370.94,174.59 L371.74,175.01 L372.55,175.42 L373.35,175.84 L374.16,176.26 L374.97,176.68 L375.77,177.11 L376.58,177.53 L377.39,177.96 L378.19,178.38 L379.00,178.81 L379.81,179.24 L380.61,179.68 L381.42,180.11 L381.74,180.28 M397.06,188.84 L397.87,189.30 L398.68,189.77 L399.48,190.24 L400.29,190.71 L401.10,191.18 L401.90,191.65 L402.71,192.12 L403.52,192.60 L404.32,193.08 L405.13,193.55 L405.94,194.03 L406.74,194.51 L407.55,194.99 L408.35,195.48 L409.16,195.96 L409.81,196.35 M426.74,206.82 L427.55,207.33 L428.35,207.84 L429.16,208.36 L429.97,208.87 L430.77,209.39 L431.58,209.90 L432.39,210.42 L433.19,210.94 L434.00,211.46 L434.81,211.98 L435.61,212.50 L436.42,213.03 L437.23,213.55 L438.03,214.07 L438.84,214.60 L439.32,214.92 M454.97,225.30 L455.77,225.85 L456.58,226.39 L457.39,226.94 L458.19,227.49 L459.00,228.03 L459.81,228.58 L460.61,229.13 L461.42,229.68 L462.23,230.23 L463.03,230.78 L463.84,231.33 L464.65,231.89 L465.45,232.44 L466.26,232.99 L467.06,233.55 L467.23,233.66 M483.19,244.77 L484.00,245.34 L484.81,245.90 L485.61,246.47 L486.42,247.04 L487.23,247.61 L488.03,248.18 L488.84,248.75 L489.65,249.32 L490.45,249.89 L491.26,250.46 L492.06,251.03 L492.87,251.61 L493.68,252.18 L494.48,252.75 L495.29,253.32 M511.90,265.21 L512.71,265.79 L513.52,266.37 L514.32,266.95 L515.13,267.53 L515.94,268.11 L516.74,268.69 L517.55,269.27 L518.35,269.85 L519.16,270.44 L519.97,271.02 L520.77,271.60 L521.58,272.18 L522.39,272.76 L523.19,273.34 L523.84,273.81 M540.77,286.05 L541.58,286.63 L542.39,287.21 L543.19,287.79 L544.00,288.37 L544.81,288.96 L545.61,289.54 L546.42,290.12 L547.23,290.70 L548.03,291.28 L548.84,291.86 L549.65,292.45 L550.45,293.03 L551.26,293.61 L552.06,294.19 L552.71,294.65 M568.19,305.75 L569.00,306.33 L569.81,306.90 L570.61,307.48 L571.42,308.05 L572.23,308.62 L573.03,309.20 L573.84,309.77 L574.65,310.34 L575.45,310.91 L576.26,311.48 L577.06,312.06 L577.87,312.63 L578.68,313.20 L579.48,313.77 L580.13,314.22 M598.03,326.72 L598.84,327.28 L599.65,327.83 L600.45,328.39 L601.26,328.94 L602.06,329.50 L602.87,330.05 L603.68,330.60 L604.48,331.15 L605.29,331.70 L606.10,332.25 L606.90,332.80 L607.71,333.35 L608.52,333.90 L609.32,334.45 L610.13,334.99 L610.29,335.10 M626.42,345.87 L627.23,346.40 L628.03,346.93 L628.84,347.46 L629.65,347.99 L630.45,348.51 L631.26,349.04 L632.06,349.57 L632.87,350.09 L633.68,350.61 L634.48,351.14 L635.29,351.66 L636.10,352.18 L636.90,352.70 L637.71,353.22 L638.52,353.74 L638.84,353.95 M654.65,363.96 L655.45,364.46 L656.26,364.96 L657.06,365.46 L657.87,365.96 L658.68,366.46 L659.48,366.95 L660.29,367.45 L661.10,367.95 L661.90,368.44 L662.71,368.94 L663.52,369.43 L664.32,369.92 L665.13,370.41 L665.94,370.90 L666.74,371.39 L667.23,371.69 M684.48,381.95 L685.29,382.41 L686.10,382.88 L686.90,383.35 L687.71,383.82 L688.52,384.28 L689.32,384.75 L690.13,385.21 L690.94,385.67 L691.74,386.13 L692.55,386.59 L693.35,387.05 L694.16,387.51 L694.97,387.97 L695.77,388.43 L696.58,388.88 L697.39,389.34 M712.71,397.80 L713.52,398.24 L714.32,398.67 L715.13,399.10 L715.94,399.54 L716.74,399.97 L717.55,400.40 L718.35,400.83 L719.16,401.25 L719.97,401.68 L720.77,402.11 L721.58,402.53 L722.39,402.96 L723.19,403.38 L724.00,403.80 L724.81,404.23 L725.61,404.65 L725.77,404.73 M742.23,413.07 L743.03,413.47 L743.84,413.86 L744.65,414.26 L745.45,414.65 L746.26,415.05 L747.06,415.44 L747.87,415.83 L748.68,416.22 L749.48,416.61 L750.29,417.00 L751.10,417.38 L751.90,417.77 L752.71,418.15 L753.52,418.54 L754.32,418.92 L755.13,419.30 L755.45,419.45 M769.16,425.75 L769.97,426.11 L770.77,426.47 L771.58,426.83 L772.39,427.18 L773.19,427.54 L774.00,427.90 L774.81,428.25 L775.61,428.60 L776.42,428.95 L777.23,429.30 L778.03,429.65 L778.84,430.00 L779.65,430.35 L780.45,430.69 L781.26,431.03 L782.06,431.38 L782.71,431.65 M798.19,438.00 L799.00,438.32 L799.81,438.64 L800.61,438.95 L801.42,439.27 L802.23,439.59 L803.03,439.90 L803.84,440.21 L804.65,440.52 L805.45,440.83 L806.26,441.14 L807.06,441.45 L807.87,441.76 L808.68,442.06 L809.48,442.37 L810.29,442.67 L811.10,442.98 L811.90,443.28 L812.06,443.34 M825.77,448.30 L826.58,448.58 L827.39,448.86 L828.19,449.14 L829.00,449.42 L829.81,449.70 L830.61,449.98 L831.42,450.25 L832.23,450.53 L833.03,450.80 L833.84,451.07 L834.65,451.35 L835.45,451.62 L836.26,451.89 L837.06,452.15 L837.87,452.42 L838.68,452.69 L839.48,452.95 L839.81,453.06 M855.45,458.01 L856.26,458.25 L857.06,458.49 L857.87,458.74 L858.68,458.98 L859.48,459.22 L860.29,459.46 L861.10,459.70 L861.90,459.94 L862.71,460.17 L863.52,460.41 L864.32,460.64 L865.13,460.88 L865.94,461.11 L866.74,461.34 L867.55,461.57 L868.35,461.80 L869.16,462.03 L869.65,462.17 M883.68,465.99 L884.48,466.20 L885.29,466.41 L886.10,466.62 L886.90,466.83 L887.71,467.04 L888.52,467.25 L889.32,467.45 L890.13,467.66 L890.94,467.86 L891.74,468.06 L892.55,468.26 L893.35,468.47 L894.16,468.67 L894.97,468.86 L895.77,469.06 L896.58,469.26 L897.39,469.46 L898.19,469.65 M912.71,473.02 L913.52,473.20 L914.32,473.38 L915.13,473.56 L915.94,473.73 L916.74,473.91 L917.55,474.08 L918.35,474.26 L919.16,474.43 L919.97,474.60 L920.77,474.77 L921.58,474.94 L922.39,475.11 L923.19,475.28 L924.00,475.45 L924.81,475.61 L925.61,475.78 L926.42,475.95 L927.23,476.11 M941.10,478.81 L941.90,478.96 L942.71,479.11 L943.52,479.26 L944.32,479.40 L945.13,479.55 L945.94,479.69 L946.74,479.84 L947.55,479.98 L948.35,480.13 L949.16,480.27 L949.97,480.41 L950.77,480.55 L951.58,480.69 L952.39,480.83 L953.19,480.97 L954.00,481.11 L954.81,481.24 L955.61,481.38 M968.03,483.38 L968.84,483.50 L969.65,483.63 L970.45,483.75 L971.26,483.87 L972.06,483.99 L972.87,484.11 L973.68,484.23 L974.48,484.35 L975.29,484.47 L976.10,484.58 L976.90,484.70 L977.71,484.81 L978.52,484.93 L979.32,485.04 L980.13,485.16 L980.94,485.27 L981.74,485.38 L982.55,485.49 L982.71,485.51 M998.35,487.53 L999.16,487.63 L999.97,487.72 L1000.77,487.82 L1001.58,487.91 L1002.39,488.01 L1003.19,488.10 L1004.00,488.19 L1004.81,488.29 L1005.61,488.38 L1006.42,488.47 L1007.23,488.56 L1008.03,488.65 L1008.84,488.74 L1009.65,488.83 L1010.45,488.91 L1011.26,489.00 L1012.06,489.09 L1012.87,489.17 L1013.19,489.21 M1026.90,490.56 L1027.71,490.63 L1028.52,490.71 L1029.32,490.78 L1030.13,490.85 L1030.94,490.92 L1031.74,490.99 L1032.55,491.06 L1033.35,491.13 L1034.16,491.20 L1034.97,491.27 L1035.77,491.34 L1036.58,491.41 L1037.39,491.47 L1038.19,491.54 L1039.00,491.60 L1039.81,491.67 L1040.61,491.73 L1041.42,491.80 L1041.74,491.82 M1055.61,492.82 L1056.42,492.88 L1057.23,492.93 L1058.03,492.98 L1058.84,493.03 L1059.65,493.08 L1060.45,493.13 L1061.26,493.18 L1062.06,493.23 L1062.87,493.28 L1063.68,493.33 L1064.48,493.38 L1065.29,493.42 L1066.10,493.47 L1066.90,493.52 L1067.71,493.56 L1068.52,493.61 L1069.32,493.65 L1070.13,493.70 L1070.45,493.71 M1084.16,494.38 L1084.97,494.41 L1085.77,494.45 L1086.58,494.48 L1087.39,494.51 L1088.19,494.54 L1089.00,494.58 L1089.81,494.61 L1090.61,494.64 L1091.42,494.67 L1092.23,494.70 L1093.03,494.73 L1093.84,494.76 L1094.65,494.79 L1095.45,494.82 L1096.26,494.84 L1097.06,494.87 L1097.87,494.90 L1098.68,494.92 L1099.00,494.93 M1113.03,495.32 L1113.84,495.34 L1114.65,495.35 L1115.45,495.37 L1116.26,495.39 L1117.06,495.40 L1117.87,495.42 L1118.68,495.44 L1119.48,495.45 L1120.29,495.47 L1121.10,495.48 L1121.90,495.49 L1122.71,495.51 L1123.52,495.52 L1124.32,495.53 L1125.13,495.54 L1125.94,495.56 L1126.74,495.57 L1127.55,495.58 L1127.87,495.58 M1141.74,495.71 L1142.55,495.71 L1143.35,495.71 L1144.16,495.72 L1144.97,495.72 L1145.77,495.72 L1146.58,495.72 L1147.39,495.72 L1148.19,495.73 L1149.00,495.73 L1149.81,495.73 L1150.61,495.73 L1151.42,495.73 L1152.23,495.73 L1153.03,495.73 L1153.84,495.72 L1154.65,495.72 L1155.45,495.72 L1156.26,495.72 L1156.58,495.72 M1170.13,495.63 L1170.94,495.62 L1171.74,495.61 L1172.55,495.60 L1173.35,495.59 L1174.16,495.59 L1174.97,495.58 L1175.77,495.57 L1176.58,495.56 L1177.39,495.55 L1178.19,495.53 L1179.00,495.52 L1179.81,495.51 L1180.61,495.50 L1181.42,495.49 L1182.23,495.48 L1183.03,495.46 L1183.84,495.45 L1184.65,495.44 L1184.97,495.43 M1197.55,495.19 L1198.35,495.17 L1199.16,495.16 L1199.97,495.14 L1200.77,495.12 L1201.58,495.10 L1202.39,495.08 L1203.19,495.06 L1204.00,495.04 L1204.81,495.03 L1205.61,495.01 L1206.42,494.99 L1207.23,494.97 L1208.03,494.95 L1208.84,494.92 L1209.65,494.90 L1210.45,494.88 L1211.26,494.86 L1212.06,494.84 L1212.39,494.83 M1226.58,494.42 L1227.39,494.39 L1228.19,494.37 L1229.00,494.34 L1229.81,494.32 L1230.61,494.29 L1231.42,494.26 L1232.23,494.24 L1233.03,494.21 L1233.84,494.18 L1234.65,494.16 L1235.45,494.13 L1236.26,494.10 L1237.06,494.07 L1237.87,494.05 L1238.68,494.02 L1239.48,493.99 L1240.29,493.96 L1241.10,493.94 L1241.42,493.92 M1255.61,493.40 L1256.42,493.37 L1257.23,493.34 L1258.03,493.31 L1258.84,493.28 L1259.65,493.25 L1260.45,493.22 L1261.26,493.19 L1262.06,493.15 L1262.87,493.12 L1263.68,493.09 L1264.48,493.06 L1265.29,493.03 L1266.10,492.99 L1266.90,492.96 L1267.71,492.93 L1268.52,492.90 L1269.32,492.86 L1270.13,492.83 L1270.45,492.82 M1283.84,492.26 L1284.65,492.23 L1285.45,492.20 L1286.26,492.16 L1287.06,492.13 L1287.87,492.09 L1288.68,492.06 L1289.48,492.03 L1290.29,491.99 L1291.10,491.96 L1291.90,491.92 L1292.71,491.89 L1293.52,491.85 L1294.32,491.82 L1295.13,491.78 L1295.94,491.75 L1296.74,491.71 L1297.55,491.68 L1298.35,491.64 L1298.68,491.63 M1312.06,491.05 L1312.87,491.02 L1313.68,490.98 L1314.48,490.95 L1315.29,490.91 L1316.10,490.88 L1316.90,490.84 L1317.71,490.81 L1318.52,490.77 L1319.32,490.74 L1320.13,490.70 L1320.94,490.67 L1321.74,490.63 L1322.55,490.60 L1323.35,490.56 L1324.16,490.53 L1324.97,490.49 L1325.77,490.46 L1326.58,490.42 L1326.90,490.41 M1342.06,489.76 L1342.87,489.73 L1343.68,489.69 L1344.48,489.66 L1345.29,489.63 L1346.10,489.59 L1346.90,489.56 L1347.71,489.53 L1348.52,489.49 L1349.32,489.46 L1350.13,489.43 L1350.94,489.39 L1351.74,489.36 L1352.55,489.33 L1353.35,489.30 L1354.16,489.26 L1354.97,489.23 L1355.77,489.20 L1356.58,489.17 L1356.90,489.15 M1370.13,488.64 L1370.94,488.61 L1371.74,488.58 L1372.55,488.55 L1373.35,488.52 L1374.16,488.49 L1374.97,488.46 L1375.77,488.43 L1376.58,488.40 L1377.39,488.37 L1378.19,488.34 L1379.00,488.31 L1379.81,488.28 L1380.61,488.25 L1381.42,488.22 L1382.23,488.19 L1383.03,488.17 L1383.84,488.14 L1384.65,488.11 L1384.97,488.10 M1399.16,487.63 L1399.97,487.61 L1400.77,487.58 L1401.58,487.56 L1402.39,487.54 L1403.19,487.51 L1404.00,487.49 L1404.81,487.46 L1405.61,487.44 L1406.42,487.42 L1407.23,487.39 L1408.03,487.37 L1408.84,487.35 L1409.65,487.33 L1410.45,487.30 L1411.26,487.28 L1412.06,487.26 L1412.87,487.24 L1413.68,487.22 L1414.00,487.21 M1428.19,486.87 L1429.00,486.86 L1429.81,486.84 L1430.61,486.82 L1431.42,486.81 L1432.23,486.79 L1433.03,486.78 L1433.84,486.76 L1434.65,486.75 L1435.45,486.73 L1436.26,486.72 L1437.06,486.70 L1437.87,486.69 L1438.68,486.68 L1439.48,486.66 L1440.29,486.65 L1441.10,486.64 L1441.90,486.62 L1442.71,486.61 L1443.03,486.61" stroke="#0000ff" stroke-width="4.80" stroke-linecap="butt"/>
<path d="M81.42,204.21 L82.23,203.34 L83.03,202.47 L83.84,201.61 L84.65,200.76 L85.45,199.91 L86.26,199.06 L87.06,198.22 L87.87,197.38 L88.68,196.55 L89.48,195.72 L90.29,194.89 L91.10,194.07 L91.90,193.26 L92.71,192.45 L93.52,191.64 L94.32,190.84 L94.48,190.68 M109.16,176.88 L109.97,176.17 L110.77,175.45 L111.58,174.75 L112.39,174.05 L113.19,173.35 L114.00,172.65 L114.81,171.96 L115.61,171.28 L116.42,170.60 L117.23,169.92 L118.03,169.25 L118.84,168.58 L119.65,167.92 L120.45,167.26 M138.03,153.93 L138.84,153.37 L139.65,152.81 L140.45,152.26 L141.26,151.70 L142.06,151.16 L142.87,150.61 L143.68,150.08 L144.48,149.54 L145.29,149.01 L146.10,148.48 L146.90,147.96 L147.71,147.44 L148.52,146.93 L149.32,146.42 L150.13,145.91 L150.45,145.71 M167.55,135.96 L168.35,135.54 L169.16,135.13 L169.97,134.72 L170.77,134.31 L171.58,133.91 L172.39,133.52 L173.19,133.12 L174.00,132.73 L174.81,132.35 L175.61,131.97 L176.42,131.59 L177.23,131.22 L178.03,130.85 L178.84,130.48 L179.65,130.12 L180.45,129.76 L180.94,129.55 M195.29,123.83 L196.10,123.55 L196.90,123.26 L197.71,122.98 L198.52,122.71 L199.32,122.44 L200.13,122.17 L200.94,121.91 L201.74,121.65 L202.55,121.39 L203.35,121.14 L204.16,120.89 L204.97,120.64 L205.77,120.40 L206.58,120.16 L207.39,119.92 L208.19,119.69 L209.00,119.46 L209.48,119.33 M223.19,116.03 L224.00,115.87 L224.81,115.71 L225.61,115.55 L226.42,115.40 L227.23,115.25 L228.03,115.10 L228.84,114.96 L229.65,114.82 L230.45,114.69 L231.26,114.56 L232.06,114.43 L232.87,114.30 L233.68,114.18 L234.48,114.06 L235.29,113.95 L236.10,113.83 L236.90,113.73 L237.71,113.62 L237.87,113.60 M252.06,112.30 L252.87,112.26 L253.68,112.22 L254.48,112.18 L255.29,112.15 L256.10,112.12 L256.90,112.09 L257.71,112.07 L258.52,112.05 L259.32,112.03 L260.13,112.02 L260.94,112.00 L261.74,112.00 L262.55,111.99 L263.35,111.99 L264.16,111.99 L264.97,111.99 L265.77,112.00 L266.58,112.01 L266.90,112.02 M280.61,112.68 L281.42,112.75 L282.23,112.81 L283.03,112.89 L283.84,112.96 L284.65,113.04 L285.45,113.12 L286.26,113.20 L287.06,113.29 L287.87,113.38 L288.68,113.47 L289.48,113.57 L290.29,113.66 L291.10,113.77 L291.90,113.87 L292.71,113.98 L293.52,114.08 L294.32,114.20 L295.13,114.31 L295.45,114.36 M311.26,117.19 L312.06,117.36 L312.87,117.54 L313.68,117.72 L314.48,117.90 L315.29,118.08 L316.10,118.27 L316.90,118.45 L317.71,118.64 L318.52,118.84 L319.32,119.03 L320.13,119.23 L320.94,119.43 L321.74,119.64 L322.55,119.84 L323.35,120.05 L324.16,120.26 L324.97,120.48 L325.77,120.69 M338.03,124.28 L338.84,124.54 L339.65,124.80 L340.45,125.06 L341.26,125.32 L342.06,125.59 L342.87,125.85 L343.68,126.12 L344.48,126.40 L345.29,126.67 L346.10,126.95 L346.90,127.23 L347.71,127.51 L348.52,127.79 L349.32,128.08 L350.13,128.37 L350.94,128.66 L351.74,128.95 L352.06,129.07 M365.77,134.40 L366.58,134.73 L367.39,135.07 L368.19,135.41 L369.00,135.75 L369.81,136.09 L370.61,136.43 L371.42,136.78 L372.23,137.12 L373.03,137.47 L373.84,137.83 L374.65,138.18 L375.45,138.54 L376.26,138.89 L377.06,139.25 L377.87,139.62 L378.68,139.98 L379.32,140.27 M395.13,147.82 L395.94,148.23 L396.74,148.64 L397.55,149.04 L398.35,149.45 L399.16,149.87 L399.97,150.28 L400.77,150.70 L401.58,151.11 L402.39,151.53 L403.19,151.95 L404.00,152.37 L404.81,152.80 L405.61,153.22 L406.42,153.65 L407.23,154.08 L408.03,154.51 L408.35,154.69 M425.29,164.13 L426.10,164.60 L426.90,165.07 L427.71,165.54 L428.52,166.01 L429.32,166.48 L430.13,166.96 L430.94,167.43 L431.74,167.91 L432.55,168.39 L433.35,168.87 L434.16,169.35 L434.97,169.83 L435.77,170.32 L436.58,170.81 L437.39,171.29 L438.03,171.68 M453.84,181.54 L454.65,182.05 L455.45,182.57 L456.26,183.09 L457.06,183.61 L457.87,184.13 L458.68,184.65 L459.48,185.17 L460.29,185.70 L461.10,186.22 L461.90,186.75 L462.71,187.28 L463.52,187.81 L464.32,188.34 L465.13,188.87 L465.94,189.40 L466.26,189.61 M482.39,200.49 L483.19,201.04 L484.00,201.60 L484.81,202.15 L485.61,202.71 L486.42,203.27 L487.23,203.82 L488.03,204.38 L488.84,204.94 L489.65,205.51 L490.45,206.07 L491.26,206.63 L492.06,207.19 L492.87,207.76 L493.68,208.32 L494.48,208.89 L494.65,209.00 M510.13,220.02 L510.94,220.60 L511.74,221.19 L512.55,221.77 L513.35,222.35 L514.16,222.94 L514.97,223.52 L515.77,224.10 L516.58,224.69 L517.39,225.27 L518.19,225.86 L519.00,226.45 L519.81,227.04 L520.61,227.62 L521.42,228.21 L522.06,228.68 M539.65,241.64 L540.45,242.24 L541.26,242.84 L542.06,243.44 L542.87,244.03 L543.68,244.63 L544.48,245.24 L545.29,245.84 L546.10,246.44 L546.90,247.04 L547.71,247.64 L548.52,248.24 L549.32,248.84 L550.13,249.44 L550.94,250.05 L551.58,250.53 M568.19,262.97 L569.00,263.58 L569.81,264.18 L570.61,264.79 L571.42,265.39 L572.23,266.00 L573.03,266.60 L573.84,267.21 L574.65,267.81 L575.45,268.42 L576.26,269.02 L577.06,269.63 L577.87,270.23 L578.68,270.84 L579.48,271.44 L580.13,271.93 M596.74,284.35 L597.55,284.95 L598.35,285.55 L599.16,286.15 L599.97,286.75 L600.77,287.35 L601.58,287.95 L602.39,288.55 L603.19,289.15 L604.00,289.75 L604.81,290.35 L605.61,290.95 L606.42,291.54 L607.23,292.14 L608.03,292.74 L608.68,293.22 M625.77,305.77 L626.58,306.36 L627.39,306.94 L628.19,307.53 L629.00,308.12 L629.81,308.70 L630.61,309.29 L631.42,309.87 L632.23,310.46 L633.03,311.04 L633.84,311.62 L634.65,312.21 L635.45,312.79 L636.26,313.37 L637.06,313.95 L637.71,314.42 M653.68,325.80 L654.48,326.37 L655.29,326.94 L656.10,327.51 L656.90,328.08 L657.71,328.64 L658.52,329.21 L659.32,329.77 L660.13,330.34 L660.94,330.90 L661.74,331.47 L662.55,332.03 L663.35,332.59 L664.16,333.15 L664.97,333.71 L665.77,334.27 L665.94,334.39 M683.19,346.20 L684.00,346.75 L684.81,347.29 L685.61,347.83 L686.42,348.37 L687.23,348.91 L688.03,349.45 L688.84,349.99 L689.65,350.53 L690.45,351.07 L691.26,351.61 L692.06,352.14 L692.87,352.68 L693.68,353.21 L694.48,353.75 L695.29,354.28 L695.45,354.39 M710.13,363.93 L710.94,364.44 L711.74,364.96 L712.55,365.47 L713.35,365.99 L714.16,366.50 L714.97,367.01 L715.77,367.52 L716.58,368.03 L717.39,368.54 L718.19,369.04 L719.00,369.55 L719.81,370.06 L720.61,370.56 L721.42,371.06 L722.23,371.57 L722.71,371.87 M739.00,381.79 L739.81,382.27 L740.61,382.75 L741.42,383.23 L742.23,383.70 L743.03,384.18 L743.84,384.65 L744.65,385.13 L745.45,385.60 L746.26,386.07 L747.06,386.54 L747.87,387.01 L748.68,387.48 L749.48,387.94 L750.29,388.41 L751.10,388.87 L751.90,389.34 M767.71,398.19 L768.52,398.62 L769.32,399.06 L770.13,399.50 L770.94,399.93 L771.74,400.37 L772.55,400.80 L773.35,401.23 L774.16,401.66 L774.97,402.09 L775.77,402.52 L776.58,402.95 L777.39,403.37 L778.19,403.80 L779.00,404.22 L779.81,404.64 L780.61,405.06 L780.77,405.14 M795.45,412.57 L796.26,412.97 L797.06,413.36 L797.87,413.75 L798.68,414.15 L799.48,414.54 L800.29,414.93 L801.10,415.32 L801.90,415.71 L802.71,416.09 L803.52,416.48 L804.32,416.86 L805.13,417.24 L805.94,417.63 L806.74,418.01 L807.55,418.39 L808.35,418.76 L808.84,418.99 M823.68,425.73 L824.48,426.08 L825.29,426.43 L826.10,426.79 L826.90,427.14 L827.71,427.49 L828.52,427.84 L829.32,428.18 L830.13,428.53 L830.94,428.88 L831.74,429.22 L832.55,429.56 L833.35,429.90 L834.16,430.25 L834.97,430.59 L835.77,430.92 L836.58,431.26 L837.23,431.53 M853.03,437.90 L853.84,438.22 L854.65,438.53 L855.45,438.84 L856.26,439.15 L857.06,439.46 L857.87,439.77 L858.68,440.07 L859.48,440.38 L860.29,440.69 L861.10,440.99 L861.90,441.29 L862.71,441.59 L863.52,441.89 L864.32,442.19 L865.13,442.49 L865.94,442.79 L866.74,443.09 L866.90,443.15 M881.26,448.24 L882.06,448.52 L882.87,448.79 L883.68,449.07 L884.48,449.34 L885.29,449.61 L886.10,449.88 L886.90,450.15 L887.71,450.42 L888.52,450.69 L889.32,450.96 L890.13,451.22 L890.94,451.49 L891.74,451.75 L892.55,452.01 L893.35,452.28 L894.16,452.54 L894.97,452.80 L895.45,452.95 M910.61,457.64 L911.42,457.88 L912.23,458.12 L913.03,458.36 L913.84,458.60 L914.65,458.83 L915.45,459.07 L916.26,459.30 L917.06,459.54 L917.87,459.77 L918.68,460.00 L919.48,460.23 L920.29,460.46 L921.10,460.69 L921.90,460.91 L922.71,461.14 L923.52,461.37 L924.32,461.59 L924.81,461.72 M939.00,465.51 L939.81,465.72 L940.61,465.93 L941.42,466.13 L942.23,466.33 L943.03,466.54 L943.84,466.74 L944.65,466.94 L945.45,467.14 L946.26,467.34 L947.06,467.54 L947.87,467.74 L948.68,467.93 L949.48,468.13 L950.29,468.32 L951.10,468.52 L951.90,468.71 L952.71,468.90 L953.52,469.09 M967.71,472.32 L968.52,472.50 L969.32,472.67 L970.13,472.84 L970.94,473.02 L971.74,473.19 L972.55,473.36 L973.35,473.53 L974.16,473.70 L974.97,473.87 L975.77,474.04 L976.58,474.20 L977.39,474.37 L978.19,474.53 L979.00,474.70 L979.81,474.86 L980.61,475.02 L981.42,475.19 L982.23,475.35 M996.90,478.14 L997.71,478.28 L998.52,478.43 L999.32,478.57 L1000.13,478.71 L1000.94,478.86 L1001.74,479.00 L1002.55,479.14 L1003.35,479.28 L1004.16,479.42 L1004.97,479.56 L1005.77,479.70 L1006.58,479.83 L1007.39,479.97 L1008.19,480.10 L1009.00,480.24 L1009.81,480.37 L1010.61,480.51 L1011.42,480.64 M1025.29,482.80 L1026.10,482.92 L1026.90,483.04 L1027.71,483.15 L1028.52,483.27 L1029.32,483.39 L1030.13,483.50 L1030.94,483.62 L1031.74,483.73 L1032.55,483.84 L1033.35,483.96 L1034.16,484.07 L1034.97,484.18 L1035.77,484.29 L1036.58,484.40 L1037.39,484.51 L1038.19,484.62 L1039.00,484.72 L1039.81,484.83 L1040.13,484.87 M1053.19,486.50 L1054.00,486.60 L1054.81,486.69 L1055.61,486.79 L1056.42,486.88 L1057.23,486.97 L1058.03,487.06 L1058.84,487.15 L1059.65,487.24 L1060.45,487.33 L1061.26,487.42 L1062.06,487.51 L1062.87,487.60 L1063.68,487.68 L1064.48,487.77 L1065.29,487.86 L1066.10,487.94 L1066.90,488.03 L1067.71,488.11 L1068.03,488.14 M1082.55,489.54 L1083.35,489.61 L1084.16,489.68 L1084.97,489.75 L1085.77,489.82 L1086.58,489.89 L1087.39,489.96 L1088.19,490.03 L1089.00,490.09 L1089.81,490.16 L1090.61,490.23 L1091.42,490.29 L1092.23,490.36 L1093.03,490.42 L1093.84,490.48 L1094.65,490.55 L1095.45,490.61 L1096.26,490.67 L1097.06,490.73 L1097.39,490.76 M1110.77,491.69 L1111.58,491.75 L1112.39,491.80 L1113.19,491.85 L1114.00,491.90 L1114.81,491.95 L1115.61,492.00 L1116.42,492.04 L1117.23,492.09 L1118.03,492.14 L1118.84,492.19 L1119.65,492.23 L1120.45,492.28 L1121.26,492.32 L1122.06,492.37 L1122.87,492.41 L1123.68,492.45 L1124.48,492.50 L1125.29,492.54 L1125.61,492.56 M1139.48,493.20 L1140.29,493.24 L1141.10,493.27 L1141.90,493.30 L1142.71,493.33 L1143.52,493.36 L1144.32,493.40 L1145.13,493.43 L1145.94,493.46 L1146.74,493.49 L1147.55,493.51 L1148.35,493.54 L1149.16,493.57 L1149.97,493.60 L1150.77,493.62 L1151.58,493.65 L1152.39,493.68 L1153.19,493.70 L1154.00,493.73 L1154.32,493.74 M1166.90,494.07 L1167.71,494.09 L1168.52,494.11 L1169.32,494.12 L1170.13,494.14 L1170.94,494.16 L1171.74,494.17 L1172.55,494.19 L1173.35,494.20 L1174.16,494.22 L1174.97,494.23 L1175.77,494.24 L1176.58,494.26 L1177.39,494.27 L1178.19,494.28 L1179.00,494.29 L1179.81,494.30 L1180.61,494.32 L1181.42,494.33 L1181.74,494.33 M1195.94,494.45 L1196.74,494.46 L1197.55,494.46 L1198.35,494.46 L1199.16,494.47 L1199.97,494.47 L1200.77,494.47 L1201.58,494.47 L1202.39,494.47 L1203.19,494.47 L1204.00,494.47 L1204.81,494.47 L1205.61,494.47 L1206.42,494.47 L1207.23,494.47 L1208.03,494.47 L1208.84,494.47 L1209.65,494.46 L1210.45,494.46 L1210.77,494.46 M1226.58,494.35 L1227.39,494.34 L1228.19,494.33 L1229.00,494.32 L1229.81,494.31 L1230.61,494.30 L1231.42,494.29 L1232.23,494.28 L1233.03,494.27 L1233.84,494.25 L1234.65,494.24 L1235.45,494.23 L1236.26,494.22 L1237.06,494.21 L1237.87,494.19 L1238.68,494.18 L1239.48,494.17 L1240.29,494.15 L1241.10,494.14 L1241.42,494.13 M1255.61,493.85 L1256.42,493.83 L1257.23,493.81 L1258.03,493.79 L1258.84,493.77 L1259.65,493.75 L1260.45,493.73 L1261.26,493.71 L1262.06,493.69 L1262.87,493.67 L1263.68,493.65 L1264.48,493.63 L1265.29,493.61 L1266.10,493.59 L1266.90,493.56 L1267.71,493.54 L1268.52,493.52 L1269.32,493.50 L1270.13,493.48 L1270.45,493.47 M1283.84,493.06 L1284.65,493.04 L1285.45,493.01 L1286.26,492.99 L1287.06,492.96 L1287.87,492.93 L1288.68,492.91 L1289.48,492.88 L1290.29,492.85 L1291.10,492.83 L1291.90,492.80 L1292.71,492.77 L1293.52,492.74 L1294.32,492.72 L1295.13,492.69 L1295.94,492.66 L1296.74,492.63 L1297.55,492.60 L1298.35,492.57 L1298.68,492.56 M1312.06,492.07 L1312.87,492.04 L1313.68,492.00 L1314.48,491.97 L1315.29,491.94 L1316.10,491.91 L1316.90,491.88 L1317.71,491.85 L1318.52,491.82 L1319.32,491.78 L1320.13,491.75 L1320.94,491.72 L1321.74,491.69 L1322.55,491.66 L1323.35,491.62 L1324.16,491.59 L1324.97,491.56 L1325.77,491.53 L1326.58,491.49 L1326.90,491.48 M1342.06,490.85 L1342.87,490.82 L1343.68,490.78 L1344.48,490.75 L1345.29,490.72 L1346.10,490.68 L1346.90,490.65 L1347.71,490.61 L1348.52,490.58 L1349.32,490.54 L1350.13,490.51 L1350.94,490.48 L1351.74,490.44 L1352.55,490.41 L1353.35,490.37 L1354.16,490.34 L1354.97,490.30 L1355.77,490.27 L1356.58,490.23 L1356.90,490.22 M1370.13,489.65 L1370.94,489.61 L1371.74,489.58 L1372.55,489.54 L1373.35,489.51 L1374.16,489.47 L1374.97,489.44 L1375.77,489.41 L1376.58,489.37 L1377.39,489.34 L1378.19,489.30 L1379.00,489.27 L1379.81,489.23 L1380.61,489.20 L1381.42,489.16 L1382.23,489.13 L1383.03,489.09 L1383.84,489.06 L1384.65,489.03 L1384.97,489.01 M1399.16,488.41 L1399.97,488.38 L1400.77,488.35 L1401.58,488.31 L1402.39,488.28 L1403.19,488.25 L1404.00,488.22 L1404.81,488.18 L1405.61,488.15 L1406.42,488.12 L1407.23,488.08 L1408.03,488.05 L1408.84,488.02 L1409.65,487.99 L1410.45,487.95 L1411.26,487.92 L1412.06,487.89 L1412.87,487.86 L1413.68,487.83 L1414.00,487.81 M1428.19,487.27 L1429.00,487.24 L1429.81,487.21 L1430.61,487.18 L1431.42,487.15 L1432.23,487.12 L1433.03,487.09 L1433.84,487.07 L1434.65,487.04 L1435.45,487.01 L1436.26,486.98 L1437.06,486.95 L1437.87,486.92 L1438.68,486.90 L1439.48,486.87 L1440.29,486.84 L1441.10,486.81 L1441.90,486.78 L1442.71,486.76 L1443.03,486.75" stroke="#0000ff" stroke-width="4.80" stroke-linecap="butt"/>
<path d="M100.77,182.00 L101.58,181.13 L102.39,180.26 L103.19,179.40 L104.00,178.54 L104.81,177.68 L105.61,176.83 L106.42,175.99 L107.23,175.14 L108.03,174.30 L108.84,173.47 L109.65,172.64 L110.45,171.81 L110.94,171.32 M121.10,161.29 L121.90,160.52 L122.71,159.76 L123.52,159.00 L124.32,158.24 L125.13,157.49 L125.94,156.74 L126.74,156.00 L127.55,155.26 L128.35,154.52 L129.16,153.79 L129.97,153.06 L130.77,152.34 L131.58,151.62 L131.90,151.33 M142.39,142.37 L143.19,141.71 L144.00,141.05 L144.81,140.40 L145.61,139.75 L146.42,139.10 L147.23,138.46 L148.03,137.82 L148.84,137.19 L149.65,136.56 L150.45,135.93 L151.26,135.31 L152.06,134.69 L152.87,134.08 L153.68,133.47 L154.00,133.23 M164.81,125.45 L165.61,124.90 L166.42,124.35 L167.23,123.80 L168.03,123.26 L168.84,122.73 L169.65,122.19 L170.45,121.66 L171.26,121.14 L172.06,120.62 L172.87,120.10 L173.68,119.59 L174.48,119.08 L175.29,118.57 L176.10,118.07 L176.90,117.57 L177.23,117.37 M190.45,109.76 L191.26,109.33 L192.06,108.90 L192.87,108.48 L193.68,108.06 L194.48,107.64 L195.29,107.23 L196.10,106.82 L196.90,106.42 L197.71,106.01 L198.52,105.62 L199.32,105.22 L200.13,104.83 L200.94,104.45 L201.74,104.06 L202.55,103.68 L203.35,103.31 L203.68,103.16 M216.42,97.74 L217.23,97.43 L218.03,97.12 L218.84,96.81 L219.65,96.51 L220.45,96.21 L221.26,95.92 L222.06,95.63 L222.87,95.34 L223.68,95.06 L224.48,94.78 L225.29,94.50 L226.10,94.23 L226.90,93.96 L227.71,93.69 L228.52,93.43 L229.32,93.17 L230.13,92.92 L230.45,92.82 M243.35,89.24 L244.16,89.04 L244.97,88.85 L245.77,88.67 L246.58,88.48 L247.39,88.30 L248.19,88.13 L249.00,87.96 L249.81,87.79 L250.61,87.62 L251.42,87.46 L252.23,87.30 L253.03,87.14 L253.84,86.99 L254.65,86.84 L255.45,86.70 L256.26,86.56 L257.06,86.42 L257.87,86.28 M271.58,84.50 L272.39,84.42 L273.19,84.35 L274.00,84.28 L274.81,84.22 L275.61,84.16 L276.42,84.10 L277.23,84.04 L278.03,83.99 L278.84,83.94 L279.65,83.89 L280.45,83.85 L281.26,83.81 L282.06,83.77 L282.87,83.74 L283.68,83.71 L284.48,83.68 L285.29,83.66 L286.10,83.64 L286.42,83.63 M299.97,83.77 L300.77,83.80 L301.58,83.84 L302.39,83.88 L303.19,83.93 L304.00,83.97 L304.81,84.02 L305.61,84.08 L306.42,84.13 L307.23,84.19 L308.03,84.25 L308.84,84.32 L309.65,84.39 L310.45,84.46 L311.26,84.53 L312.06,84.61 L312.87,84.69 L313.68,84.77 L314.48,84.85 L314.81,84.89 M327.39,86.60 L328.19,86.73 L329.00,86.87 L329.81,87.01 L330.61,87.15 L331.42,87.29 L332.23,87.44 L333.03,87.59 L333.84,87.74 L334.65,87.89 L335.45,88.05 L336.26,88.21 L337.06,88.38 L337.87,88.54 L338.68,88.71 L339.48,88.88 L340.29,89.05 L341.10,89.23 L341.90,89.41 M356.26,93.02 L357.06,93.25 L357.87,93.48 L358.68,93.71 L359.48,93.94 L360.29,94.18 L361.10,94.42 L361.90,94.66 L362.71,94.90 L363.52,95.15 L364.32,95.40 L365.13,95.65 L365.94,95.90 L366.74,96.16 L367.55,96.42 L368.35,96.68 L369.16,96.94 L369.97,97.21 L370.45,97.37 M383.19,101.90 L384.00,102.20 L384.81,102.51 L385.61,102.82 L386.42,103.13 L387.23,103.45 L388.03,103.76 L388.84,104.08 L389.65,104.40 L390.45,104.73 L391.26,105.05 L392.06,105.38 L392.87,105.71 L393.68,106.04 L394.48,106.38 L395.29,106.71 L396.10,107.05 L396.90,107.39 M410.29,113.35 L411.10,113.73 L411.90,114.11 L412.71,114.49 L413.52,114.87 L414.32,115.25 L415.13,115.64 L415.94,116.03 L416.74,116.42 L417.55,116.81 L418.35,117.21 L419.16,117.60 L419.97,118.00 L420.77,118.40 L421.58,118.81 L422.39,119.21 L423.19,119.62 L423.52,119.78 M436.42,126.54 L437.23,126.97 L438.03,127.41 L438.84,127.85 L439.65,128.30 L440.45,128.74 L441.26,129.19 L442.06,129.63 L442.87,130.08 L443.68,130.54 L444.48,130.99 L445.29,131.44 L446.10,131.90 L446.90,132.36 L447.71,132.82 L448.52,133.28 L449.32,133.74 M460.45,140.30 L461.26,140.78 L462.06,141.27 L462.87,141.76 L463.68,142.25 L464.48,142.74 L465.29,143.24 L466.10,143.73 L466.90,144.23 L467.71,144.73 L468.52,145.23 L469.32,145.73 L470.13,146.23 L470.94,146.74 L471.74,147.24 L472.55,147.75 L473.03,148.06 M484.32,155.31 L485.13,155.84 L485.94,156.37 L486.74,156.90 L487.55,157.43 L488.35,157.97 L489.16,158.50 L489.97,159.04 L490.77,159.57 L491.58,160.11 L492.39,160.65 L493.19,161.19 L494.00,161.73 L494.81,162.28 L495.61,162.82 L496.42,163.37 L496.58,163.48 M508.68,171.80 L509.48,172.37 L510.29,172.93 L511.10,173.50 L511.90,174.06 L512.71,174.63 L513.52,175.20 L514.32,175.77 L515.13,176.34 L515.94,176.92 L516.74,177.49 L517.55,178.06 L518.35,178.64 L519.16,179.21 L519.97,179.79 L520.77,180.37 M532.23,188.68 L533.03,189.27 L533.84,189.86 L534.65,190.45 L535.45,191.05 L536.26,191.64 L537.06,192.24 L537.87,192.83 L538.68,193.43 L539.48,194.03 L540.29,194.63 L541.10,195.23 L541.90,195.83 L542.71,196.43 L543.52,197.03 L544.16,197.51 M554.81,205.53 L555.61,206.14 L556.42,206.75 L557.23,207.37 L558.03,207.98 L558.84,208.59 L559.65,209.21 L560.45,209.82 L561.26,210.44 L562.06,211.06 L562.87,211.67 L563.68,212.29 L564.48,212.91 L565.29,213.53 L566.10,214.15 L566.58,214.52 M577.55,222.99 L578.35,223.62 L579.16,224.25 L579.97,224.87 L580.77,225.50 L581.58,226.13 L582.39,226.76 L583.19,227.39 L584.00,228.01 L584.81,228.64 L585.61,229.27 L586.42,229.90 L587.23,230.53 L588.03,231.16 L588.84,231.79 L589.16,232.05 M600.94,241.29 L601.74,241.92 L602.55,242.56 L603.35,243.19 L604.16,243.83 L604.97,244.46 L605.77,245.10 L606.58,245.73 L607.39,246.37 L608.19,247.00 L609.00,247.64 L609.81,248.28 L610.61,248.91 L611.42,249.55 L612.23,250.18 L612.55,250.44 M623.19,258.84 L624.00,259.48 L624.81,260.11 L625.61,260.75 L626.42,261.38 L627.23,262.02 L628.03,262.66 L628.84,263.29 L629.65,263.93 L630.45,264.56 L631.26,265.20 L632.06,265.84 L632.87,266.47 L633.68,267.11 L634.48,267.74 L634.81,268.00 M645.61,276.49 L646.42,277.12 L647.23,277.75 L648.03,278.39 L648.84,279.02 L649.65,279.65 L650.45,280.28 L651.26,280.91 L652.06,281.54 L652.87,282.17 L653.68,282.80 L654.48,283.43 L655.29,284.06 L656.10,284.69 L656.90,285.32 L657.23,285.57 M668.68,294.44 L669.48,295.06 L670.29,295.69 L671.10,296.31 L671.90,296.93 L672.71,297.55 L673.52,298.17 L674.32,298.79 L675.13,299.40 L675.94,300.02 L676.74,300.64 L677.55,301.25 L678.35,301.87 L679.16,302.49 L679.97,303.10 L680.29,303.35 M691.42,311.77 L692.23,312.37 L693.03,312.98 L693.84,313.58 L694.65,314.18 L695.45,314.79 L696.26,315.39 L697.06,315.99 L697.87,316.59 L698.68,317.19 L699.48,317.79 L700.29,318.38 L701.10,318.98 L701.90,319.58 L702.71,320.17 L703.35,320.65 M714.81,329.00 L715.61,329.59 L716.42,330.17 L717.23,330.75 L718.03,331.33 L718.84,331.90 L719.65,332.48 L720.45,333.06 L721.26,333.63 L722.06,334.21 L722.87,334.78 L723.68,335.35 L724.48,335.92 L725.29,336.49 L726.10,337.06 L726.74,337.52 M737.87,345.25 L738.68,345.80 L739.48,346.35 L740.29,346.90 L741.10,347.45 L741.90,348.00 L742.71,348.54 L743.52,349.09 L744.32,349.63 L745.13,350.18 L745.94,350.72 L746.74,351.26 L747.55,351.80 L748.35,352.33 L749.16,352.87 L749.97,353.41 L750.13,353.51 M762.06,361.30 L762.87,361.81 L763.68,362.33 L764.48,362.84 L765.29,363.36 L766.10,363.87 L766.90,364.38 L767.71,364.89 L768.52,365.40 L769.32,365.90 L770.13,366.41 L770.94,366.91 L771.74,367.42 L772.55,367.92 L773.35,368.42 L774.16,368.92 L774.65,369.22 M786.26,376.28 L787.06,376.76 L787.87,377.24 L788.68,377.72 L789.48,378.20 L790.29,378.68 L791.10,379.15 L791.90,379.63 L792.71,380.10 L793.52,380.57 L794.32,381.04 L795.13,381.51 L795.94,381.98 L796.74,382.45 L797.55,382.92 L798.35,383.38 L799.16,383.85 M813.03,391.65 L813.84,392.09 L814.65,392.54 L815.45,392.98 L816.26,393.42 L817.06,393.86 L817.87,394.29 L818.68,394.73 L819.48,395.17 L820.29,395.60 L821.10,396.03 L821.90,396.47 L822.71,396.90 L823.52,397.33 L824.32,397.76 L825.13,398.18 L825.94,398.61 L826.10,398.70 M836.58,404.14 L837.39,404.55 L838.19,404.96 L839.00,405.37 L839.81,405.77 L840.61,406.18 L841.42,406.59 L842.23,406.99 L843.03,407.39 L843.84,407.80 L844.65,408.20 L845.45,408.60 L846.26,409.00 L847.06,409.39 L847.87,409.79 L848.68,410.19 L849.48,410.58 L849.81,410.74 M861.90,416.52 L862.71,416.89 L863.52,417.27 L864.32,417.64 L865.13,418.02 L865.94,418.39 L866.74,418.76 L867.55,419.13 L868.35,419.50 L869.16,419.87 L869.97,420.23 L870.77,420.60 L871.58,420.97 L872.39,421.33 L873.19,421.69 L874.00,422.05 L874.81,422.41 L875.45,422.70 M888.19,428.25 L889.00,428.59 L889.81,428.93 L890.61,429.27 L891.42,429.61 L892.23,429.95 L893.03,430.28 L893.84,430.62 L894.65,430.95 L895.45,431.29 L896.26,431.62 L897.06,431.95 L897.87,432.28 L898.68,432.61 L899.48,432.94 L900.29,433.27 L901.10,433.59 L901.90,433.92 M914.97,439.04 L915.77,439.35 L916.58,439.66 L917.39,439.96 L918.19,440.27 L919.00,440.57 L919.81,440.88 L920.61,441.18 L921.42,441.48 L922.23,441.78 L923.03,442.08 L923.84,442.37 L924.65,442.67 L925.45,442.97 L926.26,443.26 L927.06,443.55 L927.87,443.85 L928.68,444.14 L928.84,444.20 M941.58,448.66 L942.39,448.94 L943.19,449.21 L944.00,449.49 L944.81,449.76 L945.61,450.03 L946.42,450.30 L947.23,450.57 L948.03,450.83 L948.84,451.10 L949.65,451.37 L950.45,451.63 L951.26,451.89 L952.06,452.16 L952.87,452.42 L953.68,452.68 L954.48,452.94 L955.29,453.20 L955.77,453.35 M969.32,457.54 L970.13,457.78 L970.94,458.02 L971.74,458.26 L972.55,458.50 L973.35,458.74 L974.16,458.97 L974.97,459.21 L975.77,459.44 L976.58,459.68 L977.39,459.91 L978.19,460.14 L979.00,460.37 L979.81,460.60 L980.61,460.83 L981.42,461.06 L982.23,461.28 L983.03,461.51 L983.52,461.64 M997.06,465.28 L997.87,465.49 L998.68,465.70 L999.48,465.91 L1000.29,466.11 L1001.10,466.32 L1001.90,466.52 L1002.71,466.72 L1003.52,466.92 L1004.32,467.13 L1005.13,467.33 L1005.94,467.52 L1006.74,467.72 L1007.55,467.92 L1008.35,468.12 L1009.16,468.31 L1009.97,468.51 L1010.77,468.70 L1011.58,468.89 M1025.45,472.06 L1026.26,472.24 L1027.06,472.41 L1027.87,472.59 L1028.68,472.76 L1029.48,472.93 L1030.29,473.11 L1031.10,473.28 L1031.90,473.45 L1032.71,473.61 L1033.52,473.78 L1034.32,473.95 L1035.13,474.12 L1035.94,474.28 L1036.74,474.45 L1037.55,474.61 L1038.35,474.77 L1039.16,474.93 L1039.97,475.09 M1052.87,477.55 L1053.68,477.69 L1054.48,477.84 L1055.29,477.98 L1056.10,478.13 L1056.90,478.27 L1057.71,478.41 L1058.52,478.55 L1059.32,478.69 L1060.13,478.83 L1060.94,478.97 L1061.74,479.11 L1062.55,479.24 L1063.35,479.38 L1064.16,479.51 L1064.97,479.65 L1065.77,479.78 L1066.58,479.91 L1067.39,480.04 M1080.61,482.07 L1081.42,482.19 L1082.23,482.30 L1083.03,482.42 L1083.84,482.53 L1084.65,482.65 L1085.45,482.76 L1086.26,482.87 L1087.06,482.98 L1087.87,483.09 L1088.68,483.20 L1089.48,483.31 L1090.29,483.41 L1091.10,483.52 L1091.90,483.63 L1092.71,483.73 L1093.52,483.84 L1094.32,483.94 L1095.13,484.04 L1095.45,484.08 M1109.16,485.69 L1109.97,485.78 L1110.77,485.87 L1111.58,485.95 L1112.39,486.04 L1113.19,486.12 L1114.00,486.21 L1114.81,486.29 L1115.61,486.37 L1116.42,486.46 L1117.23,486.54 L1118.03,486.62 L1118.84,486.70 L1119.65,486.78 L1120.45,486.85 L1121.26,486.93 L1122.06,487.01 L1122.87,487.08 L1123.68,487.16 L1124.00,487.19 M1138.52,488.42 L1139.32,488.48 L1140.13,488.54 L1140.94,488.60 L1141.74,488.66 L1142.55,488.72 L1143.35,488.78 L1144.16,488.84 L1144.97,488.90 L1145.77,488.95 L1146.58,489.01 L1147.39,489.07 L1148.19,489.12 L1149.00,489.17 L1149.81,489.23 L1150.61,489.28 L1151.42,489.33 L1152.23,489.39 L1153.03,489.44 L1153.35,489.46 M1165.29,490.14 L1166.10,490.18 L1166.90,490.22 L1167.71,490.26 L1168.52,490.30 L1169.32,490.34 L1170.13,490.38 L1170.94,490.42 L1171.74,490.45 L1172.55,490.49 L1173.35,490.53 L1174.16,490.56 L1174.97,490.60 L1175.77,490.63 L1176.58,490.67 L1177.39,490.70 L1178.19,490.74 L1179.00,490.77 L1179.81,490.80 L1180.13,490.81 M1195.13,491.32 L1195.94,491.34 L1196.74,491.36 L1197.55,491.38 L1198.35,491.40 L1199.16,491.42 L1199.97,491.44 L1200.77,491.46 L1201.58,491.48 L1202.39,491.50 L1203.19,491.52 L1204.00,491.54 L1204.81,491.55 L1205.61,491.57 L1206.42,491.59 L1207.23,491.60 L1208.03,491.62 L1208.84,491.63 L1209.65,491.65 L1209.97,491.65 M1224.16,491.84 L1224.97,491.85 L1225.77,491.86 L1226.58,491.86 L1227.39,491.87 L1228.19,491.88 L1229.00,491.88 L1229.81,491.89 L1230.61,491.89 L1231.42,491.90 L1232.23,491.90 L1233.03,491.90 L1233.84,491.91 L1234.65,491.91 L1235.45,491.91 L1236.26,491.92 L1237.06,491.92 L1237.87,491.92 L1238.68,491.92 L1239.00,491.92 M1255.61,491.88 L1256.42,491.87 L1257.23,491.87 L1258.03,491.86 L1258.84,491.86 L1259.65,491.85 L1260.45,491.84 L1261.26,491.84 L1262.06,491.83 L1262.87,491.82 L1263.68,491.82 L1264.48,491.81 L1265.29,491.80 L1266.10,491.79 L1266.90,491.78 L1267.71,491.78 L1268.52,491.77 L1269.32,491.76 L1270.13,491.75 L1270.45,491.75 M1283.84,491.56 L1284.65,491.55 L1285.45,491.54 L1286.26,491.53 L1287.06,491.51 L1287.87,491.50 L1288.68,491.49 L1289.48,491.47 L1290.29,491.46 L1291.10,491.45 L1291.90,491.43 L1292.71,491.42 L1293.52,491.40 L1294.32,491.39 L1295.13,491.37 L1295.94,491.36 L1296.74,491.35 L1297.55,491.33 L1298.35,491.32 L1298.68,491.31 M1312.06,491.04 L1312.87,491.02 L1313.68,491.00 L1314.48,490.99 L1315.29,490.97 L1316.10,490.95 L1316.90,490.93 L1317.71,490.91 L1318.52,490.90 L1319.32,490.88 L1320.13,490.86 L1320.94,490.84 L1321.74,490.82 L1322.55,490.80 L1323.35,490.78 L1324.16,490.76 L1324.97,490.74 L1325.77,490.72 L1326.58,490.71 L1326.90,490.70 M1342.06,490.31 L1342.87,490.28 L1343.68,490.26 L1344.48,490.24 L1345.29,490.22 L1346.10,490.20 L1346.90,490.17 L1347.71,490.15 L1348.52,490.13 L1349.32,490.10 L1350.13,490.08 L1350.94,490.06 L1351.74,490.04 L1352.55,490.01 L1353.35,489.99 L1354.16,489.96 L1354.97,489.94 L1355.77,489.92 L1356.58,489.89 L1356.90,489.88 M1370.13,489.48 L1370.94,489.45 L1371.74,489.43 L1372.55,489.40 L1373.35,489.37 L1374.16,489.35 L1374.97,489.32 L1375.77,489.30 L1376.58,489.27 L1377.39,489.24 L1378.19,489.22 L1379.00,489.19 L1379.81,489.16 L1380.61,489.14 L1381.42,489.11 L1382.23,489.08 L1383.03,489.06 L1383.84,489.03 L1384.65,489.00 L1384.97,488.99 M1399.16,488.50 L1399.97,488.47 L1400.77,488.44 L1401.58,488.41 L1402.39,488.38 L1403.19,488.35 L1404.00,488.32 L1404.81,488.29 L1405.61,488.26 L1406.42,488.23 L1407.23,488.20 L1408.03,488.17 L1408.84,488.14 L1409.65,488.11 L1410.45,488.08 L1411.26,488.05 L1412.06,488.02 L1412.87,487.99 L1413.68,487.96 L1414.00,487.95 M1428.19,487.40 L1429.00,487.37 L1429.81,487.34 L1430.61,487.31 L1431.42,487.28 L1432.23,487.25 L1433.03,487.21 L1433.84,487.18 L1434.65,487.15 L1435.45,487.12 L1436.26,487.09 L1437.06,487.05 L1437.87,487.02 L1438.68,486.99 L1439.48,486.96 L1440.29,486.92 L1441.10,486.89 L1441.90,486.86 L1442.71,486.83 L1443.03,486.81" stroke="#0000ff" stroke-width="4.80" stroke-linecap="butt"/>
</g></g>
<g stroke-linecap="square">
<line x1="83.9" y1="16.9" x2="930.1" y2="16.9" stroke="#1e1e1e" stroke-width="1.7"/>
<line x1="83.9" y1="642.4" x2="930.1" y2="642.4" stroke="#151515" stroke-width="1.6"/>
<line x1="83.8" y1="16.8" x2="83.8" y2="642.2" stroke="#2a2a2a" stroke-width="1.4"/>
<line x1="930.1" y1="16.8" x2="930.1" y2="642.2" stroke="#2a2a2a" stroke-width="1.4"/>
</g>
<g stroke="#444" stroke-width="1.3">
<line x1="176.72" y1="642.2" x2="176.72" y2="629.4"/>
<line x1="176.72" y1="16.8" x2="176.72" y2="29.4"/>
<line x1="271.04" y1="642.2" x2="271.04" y2="629.4"/>
<line x1="271.04" y1="16.8" x2="271.04" y2="29.4"/>
<line x1="365.36" y1="642.2" x2="365.36" y2="629.4"/>
<line x1="365.36" y1="16.8" x2="365.36" y2="29.4"/>
<line x1="459.68" y1="642.2" x2="459.68" y2="629.4"/>
<line x1="459.68" y1="16.8" x2="459.68" y2="29.4"/>
<line x1="554.00" y1="642.2" x2="554.00" y2="629.4"/>
<line x1="554.00" y1="16.8" x2="554.00" y2="29.4"/>
<line x1="648.32" y1="642.2" x2="648.32" y2="629.4"/>
<line x1="648.32" y1="16.8" x2="648.32" y2="29.4"/>
<line x1="742.64" y1="642.2" x2="742.64" y2="629.4"/>
<line x1="742.64" y1="16.8" x2="742.64" y2="29.4"/>
<line x1="836.96" y1="642.2" x2="836.96" y2="629.4"/>
<line x1="836.96" y1="16.8" x2="836.96" y2="29.4"/>
</g><g stroke="#111" stroke-width="1.9">
<line x1="83.9" y1="172.70" x2="91.4" y2="172.70"/>
<line x1="922.6" y1="172.70" x2="930.1" y2="172.70"/>
<line x1="83.9" y1="330.50" x2="91.4" y2="330.50"/>
<line x1="922.6" y1="330.50" x2="930.1" y2="330.50"/>
<line x1="83.9" y1="486.50" x2="91.4" y2="486.50"/>
<line x1="922.6" y1="486.50" x2="930.1" y2="486.50"/>
</g>
<text transform="translate(74.8,32.0) scale(0.600,1) skewX(-6.0)" font-size="44.5" text-anchor="end">1.5</text>
<text transform="translate(74.8,188.0) scale(0.600,1) skewX(-6.0)" font-size="44.5" text-anchor="end">1</text>
<text transform="translate(74.8,345.9) scale(0.600,1) skewX(-6.0)" font-size="44.5" text-anchor="end">0.5</text>
<text transform="translate(74.8,501.9) scale(0.600,1) skewX(-6.0)" font-size="44.5" text-anchor="end">0</text>
<text transform="translate(74.8,659.6) scale(0.600,1) skewX(-6.0)" font-size="44.5" text-anchor="end">-0.5</text>
<text transform="translate(82.40,696.0) scale(0.600,1) skewX(-6.0)" font-size="44.5" text-anchor="middle">0</text>
<text transform="translate(176.72,696.0) scale(0.600,1) skewX(-6.0)" font-size="44.5" text-anchor="middle">2</text>
<text transform="translate(271.04,696.0) scale(0.600,1) skewX(-6.0)" font-size="44.5" text-anchor="middle">4</text>
<text transform="translate(365.36,696.0) scale(0.600,1) skewX(-6.0)" font-size="44.5" text-anchor="middle">6</text>
<text transform="translate(459.68,696.0) scale(0.600,1) skewX(-6.0)" font-size="44.5" text-anchor="middle">8</text>
<text transform="translate(554.00,696.0) scale(0.600,1) skewX(-6.0)" font-size="44.5" text-anchor="middle">10</text>
<text transform="translate(648.32,696.0) scale(0.600,1) skewX(-6.0)" font-size="44.5" text-anchor="middle">12</text>
<text transform="translate(742.64,696.0) scale(0.600,1) skewX(-6.0)" font-size="44.5" text-anchor="middle">14</text>
<text transform="translate(836.96,696.0) scale(0.600,1) skewX(-6.0)" font-size="44.5" text-anchor="middle">16</text>
<text transform="translate(931.28,696.0) scale(0.600,1) skewX(-6.0)" font-size="44.5" text-anchor="middle">18</text>
<text transform="translate(500.3,751) scale(0.680,1) skewX(-14.0)" font-size="43.0" style="font-weight:normal">&#951;</text>
<g transform="translate(23.5,368.5) scale(0.620,1) rotate(-90)" style="font-weight:normal">
<text transform="translate(-3.0,-2.0) skewX(-16.0)" font-size="44.0" style="font-weight:normal">&#952;</text>
<text transform="translate(21.5,0.0) skewX(-4.0)" font-size="44.0" style="font-weight:normal">(</text>
<text transform="translate(40.0,0.0) skewX(-16.0)" font-size="44.0" style="font-weight:normal">&#951;</text>
<text transform="translate(62.0,0.0) skewX(-4.0)" font-size="44.0" style="font-weight:normal">)</text>
</g>
<text transform="translate(152.0,264.9) scale(0.587,1) skewX(-6.0)" font-size="45.0" fill="#bf00bf">K=0.5,1,1.5</text>
<text transform="translate(171.6,508.0) scale(0.587,1) skewX(-6.0)" font-size="45.0" fill="#bf00bf">K=0.5,1,1.5</text>
<line x1="278.5" y1="223.8" x2="339.0" y2="149.0" stroke="#bf00bf" stroke-width="1.4"/><polygon points="348.0,137.7 332.7,145.4 339.0,149.0 339.9,160.2" fill="#bf00bf"/>
<line x1="298.7" y1="466.9" x2="335.2" y2="430.5" stroke="#bf00bf" stroke-width="1.4"/><polygon points="344.1,421.0 328.1,426.5 335.2,430.5 334.0,442.6" fill="#bf00bf"/>
</svg></body></html>
